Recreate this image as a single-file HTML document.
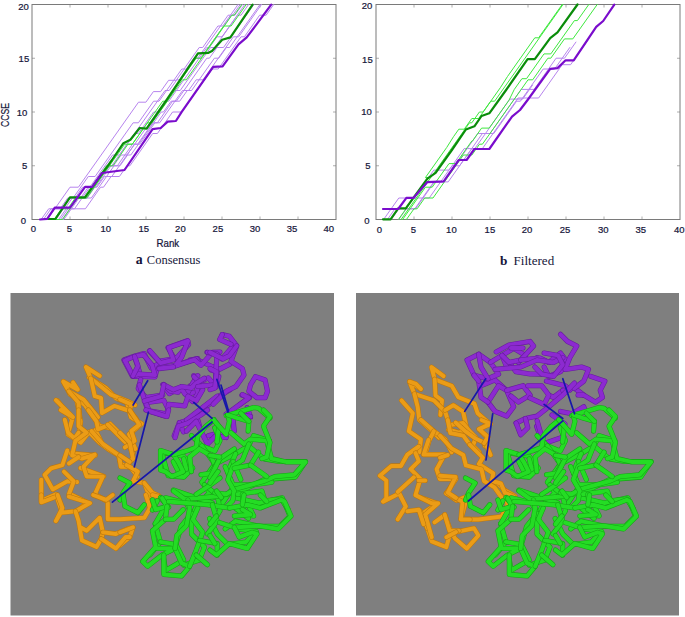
<!DOCTYPE html>
<html><head><meta charset="utf-8"><style>
html,body{margin:0;padding:0;background:#fff;width:685px;height:617px;overflow:hidden}
svg{position:absolute;left:0;top:0}
text{font-family:"Liberation Sans",sans-serif}
.tk text, .lab{stroke:#16163a;stroke-width:0.22px}
.cap{font-family:"Liberation Serif",serif}
</style></head><body>
<svg width="685" height="617" viewBox="0 0 685 617">

<g class="tk">
<line x1="70" y1="219.5" x2="70" y2="216.5" stroke="#999" stroke-width="0.8"/>
<line x1="70" y1="4.5" x2="70" y2="7.5" stroke="#999" stroke-width="0.8"/>
<line x1="108" y1="219.5" x2="108" y2="216.5" stroke="#999" stroke-width="0.8"/>
<line x1="108" y1="4.5" x2="108" y2="7.5" stroke="#999" stroke-width="0.8"/>
<line x1="146" y1="219.5" x2="146" y2="216.5" stroke="#999" stroke-width="0.8"/>
<line x1="146" y1="4.5" x2="146" y2="7.5" stroke="#999" stroke-width="0.8"/>
<line x1="184" y1="219.5" x2="184" y2="216.5" stroke="#999" stroke-width="0.8"/>
<line x1="184" y1="4.5" x2="184" y2="7.5" stroke="#999" stroke-width="0.8"/>
<line x1="222" y1="219.5" x2="222" y2="216.5" stroke="#999" stroke-width="0.8"/>
<line x1="222" y1="4.5" x2="222" y2="7.5" stroke="#999" stroke-width="0.8"/>
<line x1="260" y1="219.5" x2="260" y2="216.5" stroke="#999" stroke-width="0.8"/>
<line x1="260" y1="4.5" x2="260" y2="7.5" stroke="#999" stroke-width="0.8"/>
<line x1="298" y1="219.5" x2="298" y2="216.5" stroke="#999" stroke-width="0.8"/>
<line x1="298" y1="4.5" x2="298" y2="7.5" stroke="#999" stroke-width="0.8"/>
<line x1="32" y1="165.75" x2="35" y2="165.75" stroke="#999" stroke-width="0.8"/>
<line x1="336" y1="165.75" x2="333" y2="165.75" stroke="#999" stroke-width="0.8"/>
<line x1="32" y1="112.0" x2="35" y2="112.0" stroke="#999" stroke-width="0.8"/>
<line x1="336" y1="112.0" x2="333" y2="112.0" stroke="#999" stroke-width="0.8"/>
<line x1="32" y1="58.25" x2="35" y2="58.25" stroke="#999" stroke-width="0.8"/>
<line x1="336" y1="58.25" x2="333" y2="58.25" stroke="#999" stroke-width="0.8"/>
<rect x="32" y="4.5" width="304" height="215.0" fill="none" stroke="#7a7a7a" stroke-width="1"/>
<text x="23.5" y="223.9" font-size="9.5" fill="#16163a" text-anchor="middle">0</text>
<text x="24.6" y="169.0" font-size="9.5" fill="#16163a" text-anchor="middle">5</text>
<text x="22.1" y="116.1" font-size="9.5" fill="#16163a" text-anchor="middle">10</text>
<text x="23.9" y="61.9" font-size="9.5" fill="#16163a" text-anchor="middle">15</text>
<text x="23.5" y="9.8" font-size="9.5" fill="#16163a" text-anchor="middle">20</text>
<text x="33.5" y="231.8" font-size="9.5" fill="#16163a" text-anchor="middle">0</text>
<text x="69.5" y="231.8" font-size="9.5" fill="#16163a" text-anchor="middle">5</text>
<text x="105.7" y="231.8" font-size="9.5" fill="#16163a" text-anchor="middle">10</text>
<text x="143.8" y="231.8" font-size="9.5" fill="#16163a" text-anchor="middle">15</text>
<text x="180.4" y="231.8" font-size="9.5" fill="#16163a" text-anchor="middle">20</text>
<text x="217.9" y="231.8" font-size="9.5" fill="#16163a" text-anchor="middle">25</text>
<text x="255.1" y="231.8" font-size="9.5" fill="#16163a" text-anchor="middle">30</text>
<text x="292.1" y="231.8" font-size="9.5" fill="#16163a" text-anchor="middle">35</text>
<text x="328.8" y="231.8" font-size="9.5" fill="#16163a" text-anchor="middle">40</text>
<line x1="414" y1="219.5" x2="414" y2="216.5" stroke="#999" stroke-width="0.8"/>
<line x1="414" y1="4.5" x2="414" y2="7.5" stroke="#999" stroke-width="0.8"/>
<line x1="452" y1="219.5" x2="452" y2="216.5" stroke="#999" stroke-width="0.8"/>
<line x1="452" y1="4.5" x2="452" y2="7.5" stroke="#999" stroke-width="0.8"/>
<line x1="490" y1="219.5" x2="490" y2="216.5" stroke="#999" stroke-width="0.8"/>
<line x1="490" y1="4.5" x2="490" y2="7.5" stroke="#999" stroke-width="0.8"/>
<line x1="528" y1="219.5" x2="528" y2="216.5" stroke="#999" stroke-width="0.8"/>
<line x1="528" y1="4.5" x2="528" y2="7.5" stroke="#999" stroke-width="0.8"/>
<line x1="566" y1="219.5" x2="566" y2="216.5" stroke="#999" stroke-width="0.8"/>
<line x1="566" y1="4.5" x2="566" y2="7.5" stroke="#999" stroke-width="0.8"/>
<line x1="604" y1="219.5" x2="604" y2="216.5" stroke="#999" stroke-width="0.8"/>
<line x1="604" y1="4.5" x2="604" y2="7.5" stroke="#999" stroke-width="0.8"/>
<line x1="642" y1="219.5" x2="642" y2="216.5" stroke="#999" stroke-width="0.8"/>
<line x1="642" y1="4.5" x2="642" y2="7.5" stroke="#999" stroke-width="0.8"/>
<line x1="376" y1="165.75" x2="379" y2="165.75" stroke="#999" stroke-width="0.8"/>
<line x1="680" y1="165.75" x2="677" y2="165.75" stroke="#999" stroke-width="0.8"/>
<line x1="376" y1="112.0" x2="379" y2="112.0" stroke="#999" stroke-width="0.8"/>
<line x1="680" y1="112.0" x2="677" y2="112.0" stroke="#999" stroke-width="0.8"/>
<line x1="376" y1="58.25" x2="379" y2="58.25" stroke="#999" stroke-width="0.8"/>
<line x1="680" y1="58.25" x2="677" y2="58.25" stroke="#999" stroke-width="0.8"/>
<rect x="376" y="4.5" width="304" height="215.0" fill="none" stroke="#7a7a7a" stroke-width="1"/>
<text x="367" y="223.8" font-size="9.5" fill="#16163a" text-anchor="middle">0</text>
<text x="368" y="169.4" font-size="9.5" fill="#16163a" text-anchor="middle">5</text>
<text x="366.5" y="114.9" font-size="9.5" fill="#16163a" text-anchor="middle">10</text>
<text x="367.4" y="62.6" font-size="9.5" fill="#16163a" text-anchor="middle">15</text>
<text x="367" y="9.0" font-size="9.5" fill="#16163a" text-anchor="middle">20</text>
<text x="379.4" y="233.3" font-size="9.5" fill="#16163a" text-anchor="middle">0</text>
<text x="413.5" y="233.3" font-size="9.5" fill="#16163a" text-anchor="middle">5</text>
<text x="451.4" y="233.3" font-size="9.5" fill="#16163a" text-anchor="middle">10</text>
<text x="489.9" y="233.3" font-size="9.5" fill="#16163a" text-anchor="middle">15</text>
<text x="527.1" y="233.3" font-size="9.5" fill="#16163a" text-anchor="middle">20</text>
<text x="565" y="233.3" font-size="9.5" fill="#16163a" text-anchor="middle">25</text>
<text x="603.3" y="233.3" font-size="9.5" fill="#16163a" text-anchor="middle">30</text>
<text x="640.7" y="233.3" font-size="9.5" fill="#16163a" text-anchor="middle">35</text>
<text x="679.2" y="233.3" font-size="9.5" fill="#16163a" text-anchor="middle">40</text>
</g>
<text class="lab" x="156.6" y="246.6" font-size="10" fill="#16163a" textLength="22.6" lengthAdjust="spacingAndGlyphs">Rank</text>
<text class="lab" transform="translate(9.2,126.9) rotate(-90)" font-size="10" fill="#16163a" textLength="24" lengthAdjust="spacingAndGlyphs">CCSE</text>
<text class="cap" x="135.8" y="264.3" font-size="13.8" font-weight="bold" fill="#16163a">a</text>
<text class="cap" x="146.8" y="264.4" font-size="12.5" fill="#16163a" textLength="53.6" lengthAdjust="spacingAndGlyphs">Consensus</text>
<text class="cap" x="500.1" y="264.7" font-size="13.3" font-weight="bold" fill="#16163a">b</text>
<text class="cap" x="513.6" y="264.7" font-size="12.8" fill="#16163a" textLength="40.6" lengthAdjust="spacingAndGlyphs">Filtered</text>
<g fill="none" stroke-linejoin="round" stroke-linecap="round">
<polyline points="43.4,219.5 51.0,208.8 54.8,208.8 70.0,187.2 78.4,187.2 138.5,102.2 145.9,102.2 153.4,91.6 160.6,91.6 168.6,80.3 176.2,80.3 184.1,69.2 186.1,69.2 193.9,58.2 197.7,58.2 228.1,15.2 232.6,15.2 240.2,4.5" stroke="#b784ee" stroke-width="1"/>
<polyline points="41.1,219.5 48.7,208.8 60.1,208.8 67.7,198.0 73.1,198.0 88.3,176.5 95.1,176.5 133.1,122.8 138.4,122.8 153.6,101.2 159.0,101.2 181.8,69.0 184.0,69.0 199.2,47.5 202.7,47.5 217.9,26.0 222.8,26.0 238.0,4.5" stroke="#b784ee" stroke-width="1"/>
<polyline points="43.4,219.5 55.8,219.5 63.4,208.8 64.7,208.8 72.3,198.0 82.2,198.0 112.6,155.0 119.4,155.0 165.0,90.5 169.2,90.5 176.8,79.8 180.2,79.8 195.4,58.2 201.0,58.2 231.4,15.2 234.9,15.2 242.5,4.5" stroke="#b784ee" stroke-width="1"/>
<polyline points="47.2,219.5 54.8,208.8 61.4,208.8 69.0,198.0 75.0,198.0 82.6,187.2 92.8,187.2 108.0,165.8 111.7,165.8 134.5,133.5 138.4,133.5 153.6,112.0 159.2,112.0 174.4,90.5 180.2,90.5 210.6,47.5 214.7,47.5 237.5,15.2 241.0,15.2 248.6,4.5" stroke="#b784ee" stroke-width="1"/>
<polyline points="51.0,219.5 62.2,219.5 69.8,208.8 74.5,208.8 82.1,198.0 91.3,198.0 114.1,165.8 120.0,165.8 127.6,155.0 130.8,155.0 161.2,112.0 163.5,112.0 171.1,101.2 176.4,101.2 206.8,58.2 209.4,58.2 217.0,47.5 223.5,47.5 253.9,4.5" stroke="#b784ee" stroke-width="1"/>
<polyline points="54.8,219.5 70.0,198.0 87.2,198.0 94.8,187.2 96.9,187.2 104.5,176.5 111.8,176.5 134.6,144.2 137.6,144.2 152.8,122.8 157.4,122.8 172.6,101.2 179.7,101.2 187.3,90.5 191.6,90.5 214.4,58.2 218.8,58.2 226.4,47.5 229.6,47.5 260.0,4.5" stroke="#b784ee" stroke-width="1"/>
<polyline points="45.7,219.5 63.8,219.5 79.0,198.0 80.6,198.0 88.2,187.2 95.8,187.2 111.0,165.8 117.3,165.8 132.5,144.2 139.7,144.2 154.9,122.8 159.7,122.8 182.5,90.5 188.6,90.5 196.2,79.8 203.0,79.8 233.4,36.8 238.7,36.8 261.5,4.5" stroke="#b784ee" stroke-width="1"/>
<polyline points="58.6,219.5 66.2,208.8 85.4,208.8 100.6,187.2 103.5,187.2 111.1,176.5 119.4,176.5 127.0,165.8 129.9,165.8 152.7,133.5 157.4,133.5 172.6,112.0 181.8,112.0 212.2,69.0 218.2,69.0 241.0,36.8 244.4,36.8 259.6,15.2 266.1,15.2 273.7,4.5" stroke="#b784ee" stroke-width="1"/>
<polyline points="53.3,219.5 60.4,219.5 68.0,208.8 69.0,208.8 76.6,198.0 86.7,198.0 109.5,165.8 113.5,165.8 121.1,155.0 127.0,155.0 165.0,101.2 168.8,101.2 206.8,47.5 209.4,47.5 217.0,36.8 222.0,36.8 244.8,4.5" stroke="#b784ee" stroke-width="1"/>
<polyline points="47.2,219.5 54.0,219.5 61.6,208.8 67.7,208.8 75.3,198.0 83.7,198.0 106.5,165.8 112.8,165.8 128.0,144.2 132.3,144.2 162.7,101.2 165.8,101.2 196.2,58.2 200.9,58.2 223.7,26.0 231.1,26.0 246.3,4.5" stroke="#3ee83e" stroke-width="1"/>
<polyline points="54.8,219.5 62.5,219.5 77.7,198.0 86.7,198.0 124.7,144.2 132.3,144.2 147.5,122.8 152.1,122.8 182.5,79.8 186.3,79.8 231.9,15.2 234.2,15.2 241.8,4.5" stroke="#3ee83e" stroke-width="1"/>
<polyline points="383.6,219.5 398.8,198.0 414.0,198.0 433.8,170.1 449.0,170.1 464.2,148.6 474.8,148.6 509.8,99.1 522.7,99.1 532.6,85.1" stroke="#b784ee" stroke-width="1"/>
<polyline points="387.4,219.5 395.0,208.8 414.8,208.8 433.8,181.9 448.2,181.9 471.8,148.6 482.4,148.6 518.1,98.0 538.6,98.0 562.2,64.7 570.6,64.7 588.0,40.0" stroke="#b784ee" stroke-width="1"/>
<polyline points="391.2,219.5 406.4,198.0 429.2,198.0 452.0,165.8 459.6,165.8 482.4,133.5 490.0,133.5 521.2,89.4 534.1,89.4 556.1,58.2 564.5,58.2 575.9,42.1" stroke="#b784ee" stroke-width="1"/>
<polyline points="398.8,219.5 406.4,208.8 415.5,208.8 434.5,181.9 443.6,181.9 477.8,133.5 493.8,133.5 516.6,101.2 520.4,101.2 543.2,69.0 554.6,69.0 569.8,47.5" stroke="#b784ee" stroke-width="1"/>
<polyline points="398.4,219.5 428.1,177.6 425.4,177.6 446.7,147.5 453.5,136.7 458.8,129.2 464.2,129.2 471.8,118.5 478.6,118.5 500.6,87.3 507.5,76.5 534.8,37.8 538.6,37.8 562.2,4.5" stroke="#3ee83e" stroke-width="1"/>
<polyline points="401.1,219.5 469.5,122.8 471.8,122.8 479.4,112.0 483.1,112.0 490.7,101.2 494.6,101.2 563.0,4.5" stroke="#3ee83e" stroke-width="1"/>
<polyline points="402.6,219.5 425.4,187.2 432.2,187.2 449.0,163.6 455.8,163.6 471.8,141.0 472.5,141.0 481.6,128.1 489.2,128.1 509.0,100.2 514.3,89.4 521.9,78.7 526.5,78.7 544.0,53.9 550.8,53.9 574.4,20.6 577.4,20.6 588.8,4.5" stroke="#3ee83e" stroke-width="1"/>
<polyline points="406.4,219.5 414.0,208.8 417.1,208.8 424.7,198.0 433.0,198.0 463.4,155.0 471.9,155.0 479.5,144.2 482.4,144.2 528.0,79.8 532.7,79.8 547.9,58.2 550.8,58.2 564.5,38.9 572.8,38.9 597.2,4.5" stroke="#3ee83e" stroke-width="1"/>
<polyline points="48.4,219.0 55.4,219.0 70.0,197.3 85.1,197.3 112.0,160.0 123.4,143.2 130.4,139.7 139.7,128.0 146.7,128.6 166.6,100.0 198.0,53.4 208.5,52.8 212.0,51.0 222.2,39.7 230.4,37.4 252.6,4.7" stroke="#0a8c0a" stroke-width="2.2"/>
<polyline points="40.0,219.5 47.2,218.8 54.8,207.6 70.0,207.6 85.1,186.8 92.1,186.8 102.0,173.0 124.5,170.0 152.6,129.2 160.7,128.0 167.7,121.6 175.9,121.0 181.7,111.9 213.2,66.9 222.6,66.3 238.5,44.4 246.7,37.4 256.0,25.1 271.2,4.7" stroke="#7a0ccc" stroke-width="2.2"/>
<polyline points="383.0,219.3 390.6,219.3 398.2,208.4 405.8,208.4 427.4,178.6 435.6,172.8 451.9,150.0 465.9,129.5 474.4,126.3 481.5,116.0 489.3,113.3 506.1,90.0 527.6,59.2 534.8,59.2 550.2,38.1 557.5,32.4 577.5,4.5" stroke="#0a8c0a" stroke-width="2.2"/>
<polyline points="383.0,209.0 398.2,209.0 406.4,197.9 413.4,197.9 427.4,182.1 443.7,181.3 458.8,160.0 466.6,160.0 474.4,149.0 489.3,149.0 512.0,116.6 520.0,110.0 527.6,100.0 550.2,68.9 557.5,68.1 565.6,60.3 573.7,60.3 596.2,26.9 603.2,21.0 614.3,4.7" stroke="#7a0ccc" stroke-width="2.2"/>
</g>
<rect x="10.5" y="293" width="323.5" height="322.5" fill="#7f7f7f"/>
<rect x="356" y="293" width="323" height="322.5" fill="#7f7f7f"/>
<g fill="none" stroke-linejoin="round" stroke-linecap="round">
<polyline points="77.4,402.7 80.6,421.6 78.5,438.5" stroke="#bd780e" stroke-width="5.1"/>
<polyline points="77.4,402.7 80.6,421.6 78.5,438.5" stroke="#eb9c16" stroke-width="4.0"/>
<polyline points="57.4,400.6 72.1,419.5 67.9,434.3 80.6,442.7 89.0,432.2 99.5,442.7 108.0,449.0 118.5,455.4 120.6,463.8 131.1,468.0 137.5,476.4" stroke="#bd780e" stroke-width="5.1"/>
<polyline points="57.4,400.6 72.1,419.5 67.9,434.3 80.6,442.7 89.0,432.2 99.5,442.7 108.0,449.0 118.5,455.4 120.6,463.8 131.1,468.0 137.5,476.4" stroke="#eb9c16" stroke-width="4.0"/>
<polyline points="110.0,423.7 124.8,438.5 133.0,453.0" stroke="#bd780e" stroke-width="5.1"/>
<polyline points="110.0,423.7 124.8,438.5 133.0,453.0" stroke="#eb9c16" stroke-width="4.0"/>
<polyline points="95.3,430.0 101.6,442.7" stroke="#bd780e" stroke-width="5.1"/>
<polyline points="95.3,430.0 101.6,442.7" stroke="#eb9c16" stroke-width="4.0"/>
<polyline points="63.7,381.6 70.0,394.2 84.8,404.8 99.5,425.9 110.0,428.0" stroke="#bd780e" stroke-width="5.1"/>
<polyline points="63.7,381.6 70.0,394.2 84.8,404.8 99.5,425.9 110.0,428.0" stroke="#eb9c16" stroke-width="4.0"/>
<polyline points="89.0,377.4 105.9,387.9 116.4,398.5 126.9,402.7 131.1,417.4 141.7,423.7 129.0,434.3 135.4,449.0" stroke="#bd780e" stroke-width="5.1"/>
<polyline points="89.0,377.4 105.9,387.9 116.4,398.5 126.9,402.7 131.1,417.4 141.7,423.7 129.0,434.3 135.4,449.0" stroke="#eb9c16" stroke-width="4.0"/>
<polyline points="70.0,453.2 95.3,455.4" stroke="#bd780e" stroke-width="5.1"/>
<polyline points="70.0,453.2 95.3,455.4" stroke="#eb9c16" stroke-width="4.0"/>
<polyline points="80.6,468.0 103.7,476.4" stroke="#bd780e" stroke-width="5.1"/>
<polyline points="80.6,468.0 103.7,476.4" stroke="#eb9c16" stroke-width="4.0"/>
<polyline points="99.7,375.9 85.9,367.0 90.8,378.3 111.0,394.6 127.2,401.0 135.0,405.0" stroke="#bd780e" stroke-width="5.1"/>
<polyline points="99.7,375.9 85.9,367.0 90.8,378.3 111.0,394.6 127.2,401.0 135.0,405.0" stroke="#eb9c16" stroke-width="4.0"/>
<polyline points="90.8,378.3 94.8,396.2 101.0,398.0 102.0,413.0 114.3,405.9 127.0,410.0" stroke="#bd780e" stroke-width="5.1"/>
<polyline points="90.8,378.3 94.8,396.2 101.0,398.0 102.0,413.0 114.3,405.9 127.0,410.0" stroke="#eb9c16" stroke-width="4.0"/>
<polyline points="73.0,382.4 77.8,389.7 63.2,381.6 68.9,391.3 83.5,399.4 98.0,417.2" stroke="#bd780e" stroke-width="5.1"/>
<polyline points="73.0,382.4 77.8,389.7 63.2,381.6 68.9,391.3 83.5,399.4 98.0,417.2" stroke="#eb9c16" stroke-width="4.0"/>
<polyline points="68.9,391.3 78.6,402.7 79.4,417.2" stroke="#bd780e" stroke-width="5.1"/>
<polyline points="68.9,391.3 78.6,402.7 79.4,417.2" stroke="#eb9c16" stroke-width="4.0"/>
<polyline points="55.9,400.2 73.0,417.2 60.8,410.0" stroke="#bd780e" stroke-width="5.1"/>
<polyline points="55.9,400.2 73.0,417.2 60.8,410.0" stroke="#eb9c16" stroke-width="4.0"/>
<polyline points="120.0,399.4 131.3,404.3 129.7,410.8 136.2,418.9" stroke="#bd780e" stroke-width="5.1"/>
<polyline points="120.0,399.4 131.3,404.3 129.7,410.8 136.2,418.9" stroke="#eb9c16" stroke-width="4.0"/>
<polyline points="64.8,419.7 68.1,432.7 74.6,438.4 78.6,432.7" stroke="#bd780e" stroke-width="5.1"/>
<polyline points="64.8,419.7 68.1,432.7 74.6,438.4 78.6,432.7" stroke="#eb9c16" stroke-width="4.0"/>
<polyline points="78.6,410.0 78.6,426.2 86.7,432.7 75.4,440.8 72.1,455.4 81.9,458.6 94.8,454.6 83.5,466.7 86.7,476.5 102.9,476.5 94.8,494.3 106.2,500.8" stroke="#bd780e" stroke-width="5.1"/>
<polyline points="78.6,410.0 78.6,426.2 86.7,432.7 75.4,440.8 72.1,455.4 81.9,458.6 94.8,454.6 83.5,466.7 86.7,476.5 102.9,476.5 94.8,494.3 106.2,500.8" stroke="#eb9c16" stroke-width="4.0"/>
<polyline points="88.3,410.0 96.5,421.3 98.0,429.4 107.8,425.4" stroke="#bd780e" stroke-width="5.1"/>
<polyline points="88.3,410.0 96.5,421.3 98.0,429.4 107.8,425.4" stroke="#eb9c16" stroke-width="4.0"/>
<polyline points="91.6,431.1 102.9,444.0 119.1,455.4 120.8,466.7 130.0,466.7" stroke="#bd780e" stroke-width="5.1"/>
<polyline points="91.6,431.1 102.9,444.0 119.1,455.4 120.8,466.7 130.0,466.7" stroke="#eb9c16" stroke-width="4.0"/>
<polyline points="107.8,424.6 127.2,444.0" stroke="#bd780e" stroke-width="5.1"/>
<polyline points="107.8,424.6 127.2,444.0" stroke="#eb9c16" stroke-width="4.0"/>
<polyline points="67.3,450.5 62.4,465.1 51.1,468.3 44.6,474.8 52.7,489.4 67.3,481.3 77.0,482.0" stroke="#bd780e" stroke-width="5.1"/>
<polyline points="67.3,450.5 62.4,465.1 51.1,468.3 44.6,474.8 52.7,489.4 67.3,481.3 77.0,482.0" stroke="#eb9c16" stroke-width="4.0"/>
<polyline points="41.3,479.7 41.3,500.8 55.9,494.3 60.8,508.9" stroke="#bd780e" stroke-width="5.1"/>
<polyline points="41.3,479.7 41.3,500.8 55.9,494.3 60.8,508.9" stroke="#eb9c16" stroke-width="4.0"/>
<polyline points="70.5,494.3 86.7,502.4 79.0,510.0" stroke="#bd780e" stroke-width="5.1"/>
<polyline points="70.5,494.3 86.7,502.4 79.0,510.0" stroke="#eb9c16" stroke-width="4.0"/>
<polyline points="64.0,471.6 73.8,481.3 68.9,494.3" stroke="#bd780e" stroke-width="5.1"/>
<polyline points="64.0,471.6 73.8,481.3 68.9,494.3" stroke="#eb9c16" stroke-width="4.0"/>
<polyline points="68.9,463.5 78.6,457.0" stroke="#bd780e" stroke-width="5.1"/>
<polyline points="68.9,463.5 78.6,457.0" stroke="#eb9c16" stroke-width="4.0"/>
<polyline points="129.7,410.0 139.4,424.6 131.3,431.1 134.6,440.8 124.9,447.3" stroke="#bd780e" stroke-width="5.1"/>
<polyline points="129.7,410.0 139.4,424.6 131.3,431.1 134.6,440.8 124.9,447.3" stroke="#eb9c16" stroke-width="4.0"/>
<polyline points="120.0,432.7 129.7,442.4 133.0,458.6 126.5,465.1 137.8,471.6 133.0,481.3 144.3,482.9 149.2,495.9 149.2,508.9" stroke="#bd780e" stroke-width="5.1"/>
<polyline points="120.0,432.7 129.7,442.4 133.0,458.6 126.5,465.1 137.8,471.6 133.0,481.3 144.3,482.9 149.2,495.9 149.2,508.9" stroke="#eb9c16" stroke-width="4.0"/>
<polyline points="144.3,482.9 152.4,492.7 158.9,495.9" stroke="#bd780e" stroke-width="5.1"/>
<polyline points="144.3,482.9 152.4,492.7 158.9,495.9" stroke="#eb9c16" stroke-width="4.0"/>
<polyline points="120.0,455.4 129.7,461.9" stroke="#bd780e" stroke-width="5.1"/>
<polyline points="120.0,455.4 129.7,461.9" stroke="#eb9c16" stroke-width="4.0"/>
<polyline points="41.3,495.0 41.3,502.3 54.3,497.4" stroke="#bd780e" stroke-width="5.1"/>
<polyline points="41.3,495.0 41.3,502.3 54.3,497.4" stroke="#eb9c16" stroke-width="4.0"/>
<polyline points="57.6,495.0 62.4,508.0 55.9,521.0 60.8,512.8 75.4,511.2 90.0,503.1 68.9,496.6" stroke="#bd780e" stroke-width="5.1"/>
<polyline points="57.6,495.0 62.4,508.0 55.9,521.0 60.8,512.8 75.4,511.2 90.0,503.1 68.9,496.6" stroke="#eb9c16" stroke-width="4.0"/>
<polyline points="75.4,511.2 78.6,520.9 81.9,540.4 96.5,546.9 101.3,538.8 102.9,532.3 99.7,517.7 86.7,530.7 80.0,527.0" stroke="#bd780e" stroke-width="5.1"/>
<polyline points="75.4,511.2 78.6,520.9 81.9,540.4 96.5,546.9 101.3,538.8 102.9,532.3 99.7,517.7 86.7,530.7 80.0,527.0" stroke="#eb9c16" stroke-width="4.0"/>
<polyline points="102.9,532.3 115.9,533.9 127.2,529.0 133.0,527.4 129.7,537.1 120.0,545.2" stroke="#bd780e" stroke-width="5.1"/>
<polyline points="102.9,532.3 115.9,533.9 127.2,529.0 133.0,527.4 129.7,537.1 120.0,545.2" stroke="#eb9c16" stroke-width="4.0"/>
<polyline points="101.3,538.8 115.9,548.5 125.6,537.1 129.7,537.1" stroke="#bd780e" stroke-width="5.1"/>
<polyline points="101.3,538.8 115.9,548.5 125.6,537.1 129.7,537.1" stroke="#eb9c16" stroke-width="4.0"/>
<polyline points="107.8,503.1 107.8,519.3 120.0,519.3 144.3,517.7 150.0,508.0 145.9,495.0" stroke="#bd780e" stroke-width="5.1"/>
<polyline points="107.8,503.1 107.8,519.3 120.0,519.3 144.3,517.7 150.0,508.0 145.9,495.0" stroke="#eb9c16" stroke-width="4.0"/>
<polyline points="93.2,495.0 106.2,499.9 112.7,495.0" stroke="#bd780e" stroke-width="5.1"/>
<polyline points="93.2,495.0 106.2,499.9 112.7,495.0" stroke="#eb9c16" stroke-width="4.0"/>
<polyline points="120.0,532.3 133.0,527.4" stroke="#bd780e" stroke-width="5.1"/>
<polyline points="120.0,532.3 133.0,527.4" stroke="#eb9c16" stroke-width="4.0"/>
<polyline points="152.4,495.0 158.9,496.6" stroke="#bd780e" stroke-width="5.1"/>
<polyline points="152.4,495.0 158.9,496.6" stroke="#eb9c16" stroke-width="4.0"/>
<polyline points="206.9,352.2 215.9,353.5 222.0,359.0 228.9,350.9 233.0,346.0" stroke="#661c9e" stroke-width="5.1"/>
<polyline points="206.9,352.2 215.9,353.5 222.0,359.0 228.9,350.9 233.0,346.0" stroke="#8c2ad0" stroke-width="4.0"/>
<polyline points="197.8,360.0 212.0,366.5 219.8,369.1 230.2,363.9" stroke="#661c9e" stroke-width="5.1"/>
<polyline points="197.8,360.0 212.0,366.5 219.8,369.1 230.2,363.9" stroke="#8c2ad0" stroke-width="4.0"/>
<polyline points="190.0,360.0 197.8,358.7" stroke="#661c9e" stroke-width="5.1"/>
<polyline points="190.0,360.0 197.8,358.7" stroke="#8c2ad0" stroke-width="4.0"/>
<polyline points="193.9,375.6 197.8,384.6 215.9,386.0 217.2,371.7 211.0,370.0" stroke="#661c9e" stroke-width="5.1"/>
<polyline points="193.9,375.6 197.8,384.6 215.9,386.0 217.2,371.7 211.0,370.0" stroke="#8c2ad0" stroke-width="4.0"/>
<polyline points="190.0,386.0 197.8,384.6" stroke="#661c9e" stroke-width="5.1"/>
<polyline points="190.0,386.0 197.8,384.6" stroke="#8c2ad0" stroke-width="4.0"/>
<polyline points="190.0,393.7 201.7,389.8" stroke="#661c9e" stroke-width="5.1"/>
<polyline points="190.0,393.7 201.7,389.8" stroke="#8c2ad0" stroke-width="4.0"/>
<polyline points="241.9,395.0 249.6,397.6 239.3,405.0" stroke="#661c9e" stroke-width="5.1"/>
<polyline points="241.9,395.0 249.6,397.6 239.3,405.0" stroke="#8c2ad0" stroke-width="4.0"/>
<polyline points="134.3,356.1 139.5,371.7 132.3,376.2 123.9,360.0 134.3,356.1 144.0,353.5 151.1,367.8 158.2,363.9 155.0,376.9 132.3,376.2" stroke="#661c9e" stroke-width="5.1"/>
<polyline points="134.3,356.1 139.5,371.7 132.3,376.2 123.9,360.0 134.3,356.1 144.0,353.5 151.1,367.8 158.2,363.9 155.0,376.9 132.3,376.2" stroke="#8c2ad0" stroke-width="4.0"/>
<polyline points="149.2,351.0 158.9,361.3 174.5,358.7 168.0,347.7 187.4,340.6 188.7,344.5 177.1,357.4" stroke="#661c9e" stroke-width="5.1"/>
<polyline points="149.2,351.0 158.9,361.3 174.5,358.7 168.0,347.7 187.4,340.6 188.7,344.5 177.1,357.4" stroke="#8c2ad0" stroke-width="4.0"/>
<polyline points="158.9,367.8 175.8,365.2 196.5,358.7 200.0,364.0" stroke="#661c9e" stroke-width="5.1"/>
<polyline points="158.9,367.8 175.8,365.2 196.5,358.7 200.0,364.0" stroke="#8c2ad0" stroke-width="4.0"/>
<polyline points="140.7,379.5 138.2,388.5 145.9,397.6 162.8,395.0" stroke="#661c9e" stroke-width="5.1"/>
<polyline points="140.7,379.5 138.2,388.5 145.9,397.6 162.8,395.0" stroke="#8c2ad0" stroke-width="4.0"/>
<polyline points="162.8,384.6 169.3,393.7 180.9,387.2 187.4,393.7 192.6,383.3 197.8,375.6" stroke="#661c9e" stroke-width="5.1"/>
<polyline points="162.8,384.6 169.3,393.7 180.9,387.2 187.4,393.7 192.6,383.3 197.8,375.6" stroke="#8c2ad0" stroke-width="4.0"/>
<polyline points="145.3,402.8 147.9,410.7 165.0,416.0 168.3,409.4 163.7,400.2 145.3,402.8" stroke="#661c9e" stroke-width="5.1"/>
<polyline points="145.3,402.8 147.9,410.7 165.0,416.0 168.3,409.4 163.7,400.2 145.3,402.8" stroke="#8c2ad0" stroke-width="4.0"/>
<polyline points="163.7,384.5 170.2,391.0 178.1,392.3 180.7,387.1 184.7,393.7 192.6,401.5 197.8,393.7 196.5,385.8" stroke="#661c9e" stroke-width="5.1"/>
<polyline points="163.7,384.5 170.2,391.0 178.1,392.3 180.7,387.1 184.7,393.7 192.6,401.5 197.8,393.7 196.5,385.8" stroke="#8c2ad0" stroke-width="4.0"/>
<polyline points="193.9,376.6 199.1,381.8 208.3,377.9 216.2,387.1 218.8,376.6" stroke="#661c9e" stroke-width="5.1"/>
<polyline points="193.9,376.6 199.1,381.8 208.3,377.9 216.2,387.1 218.8,376.6" stroke="#8c2ad0" stroke-width="4.0"/>
<polyline points="174.2,435.7 179.4,422.6 188.6,420.0 195.2,416.0 218.8,396.3 230.0,389.7" stroke="#661c9e" stroke-width="5.1"/>
<polyline points="174.2,435.7 179.4,422.6 188.6,420.0 195.2,416.0 218.8,396.3 230.0,389.7" stroke="#8c2ad0" stroke-width="4.0"/>
<polyline points="179.4,422.6 183.4,431.8" stroke="#661c9e" stroke-width="5.1"/>
<polyline points="179.4,422.6 183.4,431.8" stroke="#8c2ad0" stroke-width="4.0"/>
<polyline points="197.8,420.0 200.4,429.1" stroke="#661c9e" stroke-width="5.1"/>
<polyline points="197.8,420.0 200.4,429.1" stroke="#8c2ad0" stroke-width="4.0"/>
<polyline points="208.3,435.7 218.8,433.1 226.0,436.0" stroke="#661c9e" stroke-width="5.1"/>
<polyline points="208.3,435.7 218.8,433.1 226.0,436.0" stroke="#8c2ad0" stroke-width="4.0"/>
<polyline points="124.9,360.5 134.6,356.5 143.5,354.8 152.0,365.0 155.0,375.0 139.0,374.0 133.0,375.9 124.9,360.5" stroke="#661c9e" stroke-width="5.1"/>
<polyline points="124.9,360.5 134.6,356.5 143.5,354.8 152.0,365.0 155.0,375.0 139.0,374.0 133.0,375.9 124.9,360.5" stroke="#8c2ad0" stroke-width="4.0"/>
<polyline points="134.6,356.5 138.0,366.0 133.0,375.9" stroke="#661c9e" stroke-width="5.1"/>
<polyline points="134.6,356.5 138.0,366.0 133.0,375.9" stroke="#8c2ad0" stroke-width="4.0"/>
<polyline points="150.0,350.8 160.5,363.0 173.5,359.7 168.6,347.6 188.0,341.0 181.6,357.3 175.0,366.0 194.6,359.7 201.0,365.4 212.4,352.4 220.0,352.0" stroke="#661c9e" stroke-width="5.1"/>
<polyline points="150.0,350.8 160.5,363.0 173.5,359.7 168.6,347.6 188.0,341.0 181.6,357.3 175.0,366.0 194.6,359.7 201.0,365.4 212.4,352.4 220.0,352.0" stroke="#8c2ad0" stroke-width="4.0"/>
<polyline points="159.0,368.6 173.5,367.0" stroke="#661c9e" stroke-width="5.1"/>
<polyline points="159.0,368.6 173.5,367.0" stroke="#8c2ad0" stroke-width="4.0"/>
<polyline points="139.4,384.8 144.3,399.4 149.2,410.8 167.0,414.0 168.6,404.3 184.8,405.9 188.0,396.2 196.2,401.0 202.7,389.7" stroke="#661c9e" stroke-width="5.1"/>
<polyline points="139.4,384.8 144.3,399.4 149.2,410.8 167.0,414.0 168.6,404.3 184.8,405.9 188.0,396.2 196.2,401.0 202.7,389.7" stroke="#8c2ad0" stroke-width="4.0"/>
<polyline points="163.8,384.8 173.5,389.7 181.6,386.5 191.3,388.0 196.2,383.2 204.3,378.3" stroke="#661c9e" stroke-width="5.1"/>
<polyline points="163.8,384.8 173.5,389.7 181.6,386.5 191.3,388.0 196.2,383.2 204.3,378.3" stroke="#8c2ad0" stroke-width="4.0"/>
<polyline points="163.8,384.8 161.3,396.2 144.3,401.0" stroke="#661c9e" stroke-width="5.1"/>
<polyline points="163.8,384.8 161.3,396.2 144.3,401.0" stroke="#8c2ad0" stroke-width="4.0"/>
<polyline points="207.5,352.4 217.2,354.0 215.6,373.5 215.6,384.8 197.8,386.5" stroke="#661c9e" stroke-width="5.1"/>
<polyline points="207.5,352.4 217.2,354.0 215.6,373.5 215.6,384.8 197.8,386.5" stroke="#8c2ad0" stroke-width="4.0"/>
<polyline points="186.4,420.0 217.2,396.2" stroke="#661c9e" stroke-width="5.1"/>
<polyline points="186.4,420.0 217.2,396.2" stroke="#8c2ad0" stroke-width="4.0"/>
<polyline points="222.2,334.6 229.4,336.2 236.7,345.9 231.0,361.3 242.4,368.6 244.0,375.1 235.9,386.5 226.2,391.3 213.2,404.3" stroke="#661c9e" stroke-width="5.1"/>
<polyline points="222.2,334.6 229.4,336.2 236.7,345.9 231.0,361.3 242.4,368.6 244.0,375.1 235.9,386.5 226.2,391.3 213.2,404.3" stroke="#8c2ad0" stroke-width="4.0"/>
<polyline points="222.2,334.6 219.7,339.4 231.0,344.3" stroke="#661c9e" stroke-width="5.1"/>
<polyline points="222.2,334.6 219.7,339.4 231.0,344.3" stroke="#8c2ad0" stroke-width="4.0"/>
<polyline points="210.0,352.4 223.0,358.9 229.4,355.7 236.7,345.9" stroke="#661c9e" stroke-width="5.1"/>
<polyline points="210.0,352.4 223.0,358.9 229.4,355.7 236.7,345.9" stroke="#8c2ad0" stroke-width="4.0"/>
<polyline points="210.0,368.6 216.5,371.9 214.9,388.0 210.0,389.7" stroke="#661c9e" stroke-width="5.1"/>
<polyline points="210.0,368.6 216.5,371.9 214.9,388.0 210.0,389.7" stroke="#8c2ad0" stroke-width="4.0"/>
<polyline points="255.4,376.7 265.1,380.0 267.5,391.3 265.1,397.8 257.0,397.8 248.9,391.3 250.5,384.8 255.4,376.7" stroke="#661c9e" stroke-width="5.1"/>
<polyline points="255.4,376.7 265.1,380.0 267.5,391.3 265.1,397.8 257.0,397.8 248.9,391.3 250.5,384.8 255.4,376.7" stroke="#8c2ad0" stroke-width="4.0"/>
<polyline points="242.4,394.6 248.9,397.8 231.0,410.8 226.2,414.0" stroke="#661c9e" stroke-width="5.1"/>
<polyline points="242.4,394.6 248.9,397.8 231.0,410.8 226.2,414.0" stroke="#8c2ad0" stroke-width="4.0"/>
<polyline points="247.3,407.5 250.5,417.2" stroke="#661c9e" stroke-width="5.1"/>
<polyline points="247.3,407.5 250.5,417.2" stroke="#8c2ad0" stroke-width="4.0"/>
<polyline points="145.9,410.0 167.0,416.5 168.6,410.0" stroke="#661c9e" stroke-width="5.1"/>
<polyline points="145.9,410.0 167.0,416.5 168.6,410.0" stroke="#8c2ad0" stroke-width="4.0"/>
<polyline points="175.1,437.6 178.3,426.2 188.0,423.0 201.0,414.9 207.5,410.0" stroke="#661c9e" stroke-width="5.1"/>
<polyline points="175.1,437.6 178.3,426.2 188.0,423.0 201.0,414.9 207.5,410.0" stroke="#8c2ad0" stroke-width="4.0"/>
<polyline points="186.4,431.1 196.2,421.3 199.4,427.8 207.5,444.0 215.6,435.9 226.2,437.6" stroke="#661c9e" stroke-width="5.1"/>
<polyline points="186.4,431.1 196.2,421.3 199.4,427.8 207.5,444.0 215.6,435.9 226.2,437.6" stroke="#8c2ad0" stroke-width="4.0"/>
<polyline points="232.7,416.5 234.3,431.1" stroke="#661c9e" stroke-width="5.1"/>
<polyline points="232.7,416.5 234.3,431.1" stroke="#8c2ad0" stroke-width="4.0"/>
<polyline points="242.4,414.9 250.5,416.5" stroke="#661c9e" stroke-width="5.1"/>
<polyline points="242.4,414.9 250.5,416.5" stroke="#8c2ad0" stroke-width="4.0"/>
<polyline points="161.7,452.4 168.2,475.8 183.7,477.1 192.8,468.0 183.7,456.3 161.7,452.4" stroke="#16a416" stroke-width="5.1"/>
<polyline points="161.7,452.4 168.2,475.8 183.7,477.1 192.8,468.0 183.7,456.3 161.7,452.4" stroke="#24dc24" stroke-width="4.0"/>
<polyline points="173.3,461.5 178.5,471.9 186.3,469.3 183.7,458.9" stroke="#16a416" stroke-width="5.1"/>
<polyline points="173.3,461.5 178.5,471.9 186.3,469.3 183.7,458.9" stroke="#24dc24" stroke-width="4.0"/>
<polyline points="191.5,435.6 201.9,445.9 214.8,451.1 220.0,440.7 214.8,427.8" stroke="#16a416" stroke-width="5.1"/>
<polyline points="191.5,435.6 201.9,445.9 214.8,451.1 220.0,440.7 214.8,427.8" stroke="#24dc24" stroke-width="4.0"/>
<polyline points="201.9,445.9 214.8,464.1 201.9,482.2 209.6,492.6 196.7,505.6 188.9,523.7" stroke="#16a416" stroke-width="5.1"/>
<polyline points="201.9,445.9 214.8,464.1 201.9,482.2 209.6,492.6 196.7,505.6 188.9,523.7" stroke="#24dc24" stroke-width="4.0"/>
<polyline points="214.8,464.1 235.6,453.7 248.5,445.9 253.7,435.6 269.3,440.7" stroke="#16a416" stroke-width="5.1"/>
<polyline points="214.8,464.1 235.6,453.7 248.5,445.9 253.7,435.6 269.3,440.7" stroke="#24dc24" stroke-width="4.0"/>
<polyline points="235.6,453.7 227.8,471.9 233.0,487.4 222.6,503.0" stroke="#16a416" stroke-width="5.1"/>
<polyline points="235.6,453.7 227.8,471.9 233.0,487.4 222.6,503.0" stroke="#24dc24" stroke-width="4.0"/>
<polyline points="248.5,445.9 264.1,458.9 279.7,461.5 305.6,461.5 295.2,477.1 264.1,479.6 243.4,490.0 212.2,497.8" stroke="#16a416" stroke-width="5.1"/>
<polyline points="248.5,445.9 264.1,458.9 279.7,461.5 305.6,461.5 295.2,477.1 264.1,479.6 243.4,490.0 212.2,497.8" stroke="#24dc24" stroke-width="4.0"/>
<polyline points="233.0,461.5 240.8,479.6" stroke="#16a416" stroke-width="5.1"/>
<polyline points="233.0,461.5 240.8,479.6" stroke="#24dc24" stroke-width="4.0"/>
<polyline points="235.6,497.8 258.9,503.0 282.3,497.8 290.0,516.0 279.7,526.3 258.9,526.3 235.6,521.1 225.2,528.9" stroke="#16a416" stroke-width="5.1"/>
<polyline points="235.6,497.8 258.9,503.0 282.3,497.8 290.0,516.0 279.7,526.3 258.9,526.3 235.6,521.1 225.2,528.9" stroke="#24dc24" stroke-width="4.0"/>
<polyline points="240.8,513.4 253.7,516.0 248.5,505.6" stroke="#16a416" stroke-width="5.1"/>
<polyline points="240.8,513.4 253.7,516.0 248.5,505.6" stroke="#24dc24" stroke-width="4.0"/>
<polyline points="173.3,490.0 196.7,497.8 212.2,503.0" stroke="#16a416" stroke-width="5.1"/>
<polyline points="173.3,490.0 196.7,497.8 212.2,503.0" stroke="#24dc24" stroke-width="4.0"/>
<polyline points="165.6,497.8 186.3,503.0 191.5,513.4 191.5,534.1 204.5,547.1 199.3,560.0 183.7,565.2" stroke="#16a416" stroke-width="5.1"/>
<polyline points="165.6,497.8 186.3,503.0 191.5,513.4 191.5,534.1 204.5,547.1 199.3,560.0 183.7,565.2" stroke="#24dc24" stroke-width="4.0"/>
<polyline points="155.2,523.7 160.4,541.9 150.0,554.9" stroke="#16a416" stroke-width="5.1"/>
<polyline points="155.2,523.7 160.4,541.9 150.0,554.9" stroke="#24dc24" stroke-width="4.0"/>
<polyline points="160.4,541.9 175.9,544.5 181.1,526.3 191.5,513.4" stroke="#16a416" stroke-width="5.1"/>
<polyline points="160.4,541.9 175.9,544.5 181.1,526.3 191.5,513.4" stroke="#24dc24" stroke-width="4.0"/>
<polyline points="165.6,505.6 155.2,523.7" stroke="#16a416" stroke-width="5.1"/>
<polyline points="165.6,505.6 155.2,523.7" stroke="#24dc24" stroke-width="4.0"/>
<polyline points="175.9,544.5 183.7,560.0 165.6,570.4 163.0,554.9" stroke="#16a416" stroke-width="5.1"/>
<polyline points="175.9,544.5 183.7,560.0 165.6,570.4 163.0,554.9" stroke="#24dc24" stroke-width="4.0"/>
<polyline points="209.6,518.5 217.4,534.1 227.8,544.5 246.0,541.9 256.3,531.5 238.2,529.0" stroke="#16a416" stroke-width="5.1"/>
<polyline points="209.6,518.5 217.4,534.1 227.8,544.5 246.0,541.9 256.3,531.5 238.2,529.0" stroke="#24dc24" stroke-width="4.0"/>
<polyline points="204.5,484.8 217.4,495.2 220.0,510.8 212.2,523.7" stroke="#16a416" stroke-width="5.1"/>
<polyline points="204.5,484.8 217.4,495.2 220.0,510.8 212.2,523.7" stroke="#24dc24" stroke-width="4.0"/>
<polyline points="225.2,466.7 233.0,484.8 253.7,484.8 271.9,482.2" stroke="#16a416" stroke-width="5.1"/>
<polyline points="225.2,466.7 233.0,484.8 253.7,484.8 271.9,482.2" stroke="#24dc24" stroke-width="4.0"/>
<polyline points="235.6,508.2 248.5,518.5" stroke="#16a416" stroke-width="5.1"/>
<polyline points="235.6,508.2 248.5,518.5" stroke="#24dc24" stroke-width="4.0"/>
<polyline points="226.2,415.6 253.8,407.5 258.6,408.3 270.0,418.0" stroke="#16a416" stroke-width="5.1"/>
<polyline points="226.2,415.6 253.8,407.5 258.6,408.3 270.0,418.0" stroke="#24dc24" stroke-width="4.0"/>
<polyline points="160.5,450.5 173.5,454.6 178.3,461.9 183.2,471.6 171.9,476.5 165.4,471.6 160.5,470.0 160.5,450.5" stroke="#16a416" stroke-width="5.1"/>
<polyline points="160.5,450.5 173.5,454.6 178.3,461.9 183.2,471.6 171.9,476.5 165.4,471.6 160.5,470.0 160.5,450.5" stroke="#24dc24" stroke-width="4.0"/>
<polyline points="173.5,454.6 188.0,450.5 196.2,447.3 197.8,435.9 205.9,426.2 214.0,419.7" stroke="#16a416" stroke-width="5.1"/>
<polyline points="173.5,454.6 188.0,450.5 196.2,447.3 197.8,435.9 205.9,426.2 214.0,419.7" stroke="#24dc24" stroke-width="4.0"/>
<polyline points="191.3,471.6 189.7,456.9 199.4,448.9 210.8,455.4 215.6,466.7" stroke="#16a416" stroke-width="5.1"/>
<polyline points="191.3,471.6 189.7,456.9 199.4,448.9 210.8,455.4 215.6,466.7" stroke="#24dc24" stroke-width="4.0"/>
<polyline points="214.0,419.7 218.9,426.2 217.0,442.0" stroke="#16a416" stroke-width="5.1"/>
<polyline points="214.0,419.7 218.9,426.2 217.0,442.0" stroke="#24dc24" stroke-width="4.0"/>
<polyline points="201.0,474.8 210.8,473.2 220.0,458.6" stroke="#16a416" stroke-width="5.1"/>
<polyline points="201.0,474.8 210.8,473.2 220.0,458.6" stroke="#24dc24" stroke-width="4.0"/>
<polyline points="173.5,491.0 184.8,499.1 204.3,497.5 220.0,496.0" stroke="#16a416" stroke-width="5.1"/>
<polyline points="173.5,491.0 184.8,499.1 204.3,497.5 220.0,496.0" stroke="#24dc24" stroke-width="4.0"/>
<polyline points="196.2,494.3 210.8,484.6 220.0,478.0" stroke="#16a416" stroke-width="5.1"/>
<polyline points="196.2,494.3 210.8,484.6 220.0,478.0" stroke="#24dc24" stroke-width="4.0"/>
<polyline points="120.0,478.0 129.7,483.0 123.2,492.7 120.0,500.0" stroke="#16a416" stroke-width="5.1"/>
<polyline points="120.0,478.0 129.7,483.0 123.2,492.7 120.0,500.0" stroke="#24dc24" stroke-width="4.0"/>
<polyline points="160.5,497.5 168.6,507.2" stroke="#16a416" stroke-width="5.1"/>
<polyline points="160.5,497.5 168.6,507.2" stroke="#24dc24" stroke-width="4.0"/>
<polyline points="157.3,500.8 152.4,510.0" stroke="#16a416" stroke-width="5.1"/>
<polyline points="157.3,500.8 152.4,510.0" stroke="#24dc24" stroke-width="4.0"/>
<polyline points="213.2,419.7 226.2,434.3 229.4,421.3 227.8,414.9" stroke="#16a416" stroke-width="5.1"/>
<polyline points="213.2,419.7 226.2,434.3 229.4,421.3 227.8,414.9" stroke="#24dc24" stroke-width="4.0"/>
<polyline points="231.0,432.7 244.0,444.0 250.5,439.2 266.7,440.8 271.6,458.6 286.2,461.9 305.6,461.9 294.3,474.8 274.8,476.5 263.5,481.3 234.3,489.4 226.2,494.3 214.9,492.7" stroke="#16a416" stroke-width="5.1"/>
<polyline points="231.0,432.7 244.0,444.0 250.5,439.2 266.7,440.8 271.6,458.6 286.2,461.9 305.6,461.9 294.3,474.8 274.8,476.5 263.5,481.3 234.3,489.4 226.2,494.3 214.9,492.7" stroke="#24dc24" stroke-width="4.0"/>
<polyline points="263.5,410.0 270.0,416.5 263.5,426.2 270.0,442.4 266.7,457.0 261.9,458.6" stroke="#16a416" stroke-width="5.1"/>
<polyline points="263.5,410.0 270.0,416.5 263.5,426.2 270.0,442.4 266.7,457.0 261.9,458.6" stroke="#24dc24" stroke-width="4.0"/>
<polyline points="227.8,414.9 237.6,418.1 248.9,421.3 248.1,431.1" stroke="#16a416" stroke-width="5.1"/>
<polyline points="227.8,414.9 237.6,418.1 248.9,421.3 248.1,431.1" stroke="#24dc24" stroke-width="4.0"/>
<polyline points="240.8,413.2 248.9,421.3" stroke="#16a416" stroke-width="5.1"/>
<polyline points="240.8,413.2 248.9,421.3" stroke="#24dc24" stroke-width="4.0"/>
<polyline points="234.3,448.9 219.7,458.6 214.9,468.3 210.0,478.0" stroke="#16a416" stroke-width="5.1"/>
<polyline points="234.3,448.9 219.7,458.6 214.9,468.3 210.0,478.0" stroke="#24dc24" stroke-width="4.0"/>
<polyline points="248.9,444.0 242.4,460.2 232.7,466.7 227.8,479.7 234.3,491.0 232.7,500.8 226.2,507.2" stroke="#16a416" stroke-width="5.1"/>
<polyline points="248.9,444.0 242.4,460.2 232.7,466.7 227.8,479.7 234.3,491.0 232.7,500.8 226.2,507.2" stroke="#24dc24" stroke-width="4.0"/>
<polyline points="234.3,468.3 250.5,465.1 258.6,452.1" stroke="#16a416" stroke-width="5.1"/>
<polyline points="234.3,468.3 250.5,465.1 258.6,452.1" stroke="#24dc24" stroke-width="4.0"/>
<polyline points="250.5,465.1 266.7,476.5" stroke="#16a416" stroke-width="5.1"/>
<polyline points="250.5,465.1 266.7,476.5" stroke="#24dc24" stroke-width="4.0"/>
<polyline points="237.6,494.3 261.9,491.0 265.1,500.8 281.3,499.1 287.8,508.9" stroke="#16a416" stroke-width="5.1"/>
<polyline points="237.6,494.3 261.9,491.0 265.1,500.8 281.3,499.1 287.8,508.9" stroke="#24dc24" stroke-width="4.0"/>
<polyline points="242.4,494.3 244.0,507.2" stroke="#16a416" stroke-width="5.1"/>
<polyline points="242.4,494.3 244.0,507.2" stroke="#24dc24" stroke-width="4.0"/>
<polyline points="210.0,455.4 219.7,457.0" stroke="#16a416" stroke-width="5.1"/>
<polyline points="210.0,455.4 219.7,457.0" stroke="#24dc24" stroke-width="4.0"/>
<polyline points="218.1,471.6 210.0,483.0" stroke="#16a416" stroke-width="5.1"/>
<polyline points="218.1,471.6 210.0,483.0" stroke="#24dc24" stroke-width="4.0"/>
<polyline points="216.5,491.0 221.3,497.5" stroke="#16a416" stroke-width="5.1"/>
<polyline points="216.5,491.0 221.3,497.5" stroke="#24dc24" stroke-width="4.0"/>
<polyline points="123.2,495.0 124.9,506.3 137.8,512.8 144.3,504.7" stroke="#16a416" stroke-width="5.1"/>
<polyline points="123.2,495.0 124.9,506.3 137.8,512.8 144.3,504.7" stroke="#24dc24" stroke-width="4.0"/>
<polyline points="152.4,499.9 155.7,509.6 167.0,506.3 162.1,498.2" stroke="#16a416" stroke-width="5.1"/>
<polyline points="152.4,499.9 155.7,509.6 167.0,506.3 162.1,498.2" stroke="#24dc24" stroke-width="4.0"/>
<polyline points="167.0,506.3 165.4,519.3 152.4,530.7 155.7,546.9 142.7,561.5 147.6,566.3 162.1,555.0 175.1,548.5 157.3,548.5" stroke="#16a416" stroke-width="5.1"/>
<polyline points="167.0,506.3 165.4,519.3 152.4,530.7 155.7,546.9 142.7,561.5 147.6,566.3 162.1,555.0 175.1,548.5 157.3,548.5" stroke="#24dc24" stroke-width="4.0"/>
<polyline points="165.4,519.3 173.5,519.3 183.2,509.6" stroke="#16a416" stroke-width="5.1"/>
<polyline points="165.4,519.3 173.5,519.3 183.2,509.6" stroke="#24dc24" stroke-width="4.0"/>
<polyline points="163.8,555.0 163.8,574.4 181.6,576.0 189.7,566.3 181.6,563.1 175.1,548.5" stroke="#16a416" stroke-width="5.1"/>
<polyline points="163.8,555.0 163.8,574.4 181.6,576.0 189.7,566.3 181.6,563.1 175.1,548.5" stroke="#24dc24" stroke-width="4.0"/>
<polyline points="175.1,548.5 176.7,535.5 186.4,525.8 189.7,508.0 188.0,500.0" stroke="#16a416" stroke-width="5.1"/>
<polyline points="175.1,548.5 176.7,535.5 186.4,525.8 189.7,508.0 188.0,500.0" stroke="#24dc24" stroke-width="4.0"/>
<polyline points="189.7,566.3 196.2,550.1 202.7,532.3 192.9,519.3 197.8,508.0" stroke="#16a416" stroke-width="5.1"/>
<polyline points="189.7,566.3 196.2,550.1 202.7,532.3 192.9,519.3 197.8,508.0" stroke="#24dc24" stroke-width="4.0"/>
<polyline points="196.2,555.0 207.5,564.7" stroke="#16a416" stroke-width="5.1"/>
<polyline points="196.2,555.0 207.5,564.7" stroke="#24dc24" stroke-width="4.0"/>
<polyline points="199.4,540.4 217.2,543.6 217.2,555.0" stroke="#16a416" stroke-width="5.1"/>
<polyline points="199.4,540.4 217.2,543.6 217.2,555.0" stroke="#24dc24" stroke-width="4.0"/>
<polyline points="168.6,501.5 207.5,504.7 229.4,508.0" stroke="#16a416" stroke-width="5.1"/>
<polyline points="168.6,501.5 207.5,504.7 229.4,508.0" stroke="#24dc24" stroke-width="4.0"/>
<polyline points="212.4,504.7 217.2,521.0 207.5,533.9" stroke="#16a416" stroke-width="5.1"/>
<polyline points="212.4,504.7 217.2,521.0 207.5,533.9" stroke="#24dc24" stroke-width="4.0"/>
<polyline points="229.4,508.0 247.3,504.7 260.2,508.0 281.3,499.9 284.6,501.5 291.0,516.1 278.1,529.0 258.6,525.8 234.3,527.4 219.7,522.6" stroke="#16a416" stroke-width="5.1"/>
<polyline points="229.4,508.0 247.3,504.7 260.2,508.0 281.3,499.9 284.6,501.5 291.0,516.1 278.1,529.0 258.6,525.8 234.3,527.4 219.7,522.6" stroke="#24dc24" stroke-width="4.0"/>
<polyline points="234.3,527.4 239.2,537.1 252.1,532.3 257.0,533.9 247.3,548.5 229.4,543.6 216.5,555.0 210.0,550.0" stroke="#16a416" stroke-width="5.1"/>
<polyline points="234.3,527.4 239.2,537.1 252.1,532.3 257.0,533.9 247.3,548.5 229.4,543.6 216.5,555.0 210.0,550.0" stroke="#24dc24" stroke-width="4.0"/>
<polyline points="210.0,524.2 216.5,516.0" stroke="#16a416" stroke-width="5.1"/>
<polyline points="210.0,524.2 216.5,516.0" stroke="#24dc24" stroke-width="4.0"/>
<polyline points="234.3,516.1 250.5,514.4 242.4,509.6" stroke="#16a416" stroke-width="5.1"/>
<polyline points="234.3,516.1 250.5,514.4 242.4,509.6" stroke="#24dc24" stroke-width="4.0"/>
<polyline points="244.0,495.0 242.4,504.7" stroke="#16a416" stroke-width="5.1"/>
<polyline points="244.0,495.0 242.4,504.7" stroke="#24dc24" stroke-width="4.0"/>
<polyline points="260.2,495.0 266.7,501.5" stroke="#16a416" stroke-width="5.1"/>
<polyline points="260.2,495.0 266.7,501.5" stroke="#24dc24" stroke-width="4.0"/>
<polyline points="210.0,535.5 214.9,543.6" stroke="#16a416" stroke-width="5.1"/>
<polyline points="210.0,535.5 214.9,543.6" stroke="#24dc24" stroke-width="4.0"/>
<polyline points="147.7,380.7 133.1,405.0" stroke="#1616aa" stroke-width="1.7"/>
<polyline points="148.4,412.2 134.3,466.9" stroke="#1616aa" stroke-width="1.7"/>
<polyline points="112.4,502.2 212.1,422.0" stroke="#1616aa" stroke-width="1.7"/>
<polyline points="193.8,402.5 212.1,418.3" stroke="#1616aa" stroke-width="1.7"/>
<polyline points="216.9,379.4 227.9,412.2" stroke="#1616aa" stroke-width="1.7"/>
<polyline points="221.0,385.0 228.5,411.0" stroke="#1616aa" stroke-width="1.7"/>
<polyline points="446.3,493.1 456.5,500.4 468.2,496.1" stroke="#bd780e" stroke-width="5.1"/>
<polyline points="446.3,493.1 456.5,500.4 468.2,496.1" stroke="#eb9c16" stroke-width="4.0"/>
<polyline points="465.3,503.4 460.9,519.4 478.4,519.4 501.8,516.5 507.6,504.8 504.7,490.2 498.8,484.4 491.5,480.0" stroke="#bd780e" stroke-width="5.1"/>
<polyline points="465.3,503.4 460.9,519.4 478.4,519.4 501.8,516.5 507.6,504.8 504.7,490.2 498.8,484.4 491.5,480.0" stroke="#eb9c16" stroke-width="4.0"/>
<polyline points="504.7,490.2 514.9,496.1" stroke="#bd780e" stroke-width="5.1"/>
<polyline points="504.7,490.2 514.9,496.1" stroke="#eb9c16" stroke-width="4.0"/>
<polyline points="420.0,497.5 437.5,503.4 424.4,512.1 425.8,523.8 431.7,541.3 446.3,547.2 450.7,531.1 444.8,515.0 434.6,522.3" stroke="#bd780e" stroke-width="5.1"/>
<polyline points="420.0,497.5 437.5,503.4 424.4,512.1 425.8,523.8 431.7,541.3 446.3,547.2 450.7,531.1 444.8,515.0 434.6,522.3" stroke="#eb9c16" stroke-width="4.0"/>
<polyline points="450.7,531.1 455.0,538.4 466.7,548.6 478.4,535.5 474.0,528.2 453.6,532.6" stroke="#bd780e" stroke-width="5.1"/>
<polyline points="450.7,531.1 455.0,538.4 466.7,548.6 478.4,535.5 474.0,528.2 453.6,532.6" stroke="#eb9c16" stroke-width="4.0"/>
<polyline points="420.0,510.7 427.3,528.2" stroke="#bd780e" stroke-width="5.1"/>
<polyline points="420.0,510.7 427.3,528.2" stroke="#eb9c16" stroke-width="4.0"/>
<polyline points="443.6,376.1 431.5,367.2 434.7,379.3" stroke="#bd780e" stroke-width="5.1"/>
<polyline points="443.6,376.1 431.5,367.2 434.7,379.3" stroke="#eb9c16" stroke-width="4.0"/>
<polyline points="434.7,379.3 451.7,385.8 458.2,397.1 474.4,403.6 477.7,413.3 489.0,423.1 479.3,429.6 487.4,437.7 485.0,446.0" stroke="#bd780e" stroke-width="5.1"/>
<polyline points="434.7,379.3 451.7,385.8 458.2,397.1 474.4,403.6 477.7,413.3 489.0,423.1 479.3,429.6 487.4,437.7 485.0,446.0" stroke="#eb9c16" stroke-width="4.0"/>
<polyline points="434.7,379.3 435.5,395.5 442.0,400.4 440.4,415.0" stroke="#bd780e" stroke-width="5.1"/>
<polyline points="434.7,379.3 435.5,395.5 442.0,400.4 440.4,415.0" stroke="#eb9c16" stroke-width="4.0"/>
<polyline points="420.9,389.0 409.6,381.7 414.4,393.9 433.9,400.4 445.2,411.7 450.1,427.9 451.7,431.0" stroke="#bd780e" stroke-width="5.1"/>
<polyline points="420.9,389.0 409.6,381.7 414.4,393.9 433.9,400.4 445.2,411.7 450.1,427.9 451.7,431.0" stroke="#eb9c16" stroke-width="4.0"/>
<polyline points="409.6,381.7 416.0,384.0 420.9,389.0" stroke="#bd780e" stroke-width="5.1"/>
<polyline points="409.6,381.7 416.0,384.0 420.9,389.0" stroke="#eb9c16" stroke-width="4.0"/>
<polyline points="414.4,393.9 417.7,406.9 419.3,419.8 432.3,431.2 438.8,437.7" stroke="#bd780e" stroke-width="5.1"/>
<polyline points="414.4,393.9 417.7,406.9 419.3,419.8 432.3,431.2 438.8,437.7" stroke="#eb9c16" stroke-width="4.0"/>
<polyline points="401.5,400.4 412.8,413.3 408.8,431.2 420.9,439.3 419.3,452.2" stroke="#bd780e" stroke-width="5.1"/>
<polyline points="401.5,400.4 412.8,413.3 408.8,431.2 420.9,439.3 419.3,452.2" stroke="#eb9c16" stroke-width="4.0"/>
<polyline points="445.2,410.1 453.3,405.2 463.1,411.7 466.3,426.3 459.8,432.8 448.5,429.6" stroke="#bd780e" stroke-width="5.1"/>
<polyline points="445.2,410.1 453.3,405.2 463.1,411.7 466.3,426.3 459.8,432.8 448.5,429.6" stroke="#eb9c16" stroke-width="4.0"/>
<polyline points="420.9,419.8 433.9,431.2 445.2,439.3 451.7,452.2" stroke="#bd780e" stroke-width="5.1"/>
<polyline points="420.9,419.8 433.9,431.2 445.2,439.3 451.7,452.2" stroke="#eb9c16" stroke-width="4.0"/>
<polyline points="433.9,431.2 429.0,440.9 425.8,452.2" stroke="#bd780e" stroke-width="5.1"/>
<polyline points="433.9,431.2 429.0,440.9 425.8,452.2" stroke="#eb9c16" stroke-width="4.0"/>
<polyline points="451.7,424.7 463.1,423.1 469.6,431.2 476.0,437.7 472.8,445.8 479.3,452.2" stroke="#bd780e" stroke-width="5.1"/>
<polyline points="451.7,424.7 463.1,423.1 469.6,431.2 476.0,437.7 472.8,445.8 479.3,452.2" stroke="#eb9c16" stroke-width="4.0"/>
<polyline points="418.8,446.5 407.4,454.6 400.9,465.9 391.2,465.9 379.9,475.7 386.3,480.5 386.3,498.3 383.1,501.6 399.3,493.5 405.8,506.5 397.7,519.4" stroke="#bd780e" stroke-width="5.1"/>
<polyline points="418.8,446.5 407.4,454.6 400.9,465.9 391.2,465.9 379.9,475.7 386.3,480.5 386.3,498.3 383.1,501.6 399.3,493.5 405.8,506.5 397.7,519.4" stroke="#eb9c16" stroke-width="4.0"/>
<polyline points="415.5,453.0 418.8,461.1 410.7,469.2 420.4,478.9 415.5,495.1 431.7,503.2 438.2,503.2 425.2,514.6 428.5,525.9 431.7,537.2" stroke="#bd780e" stroke-width="5.1"/>
<polyline points="415.5,453.0 418.8,461.1 410.7,469.2 420.4,478.9 415.5,495.1 431.7,503.2 438.2,503.2 425.2,514.6 428.5,525.9 431.7,537.2" stroke="#eb9c16" stroke-width="4.0"/>
<polyline points="428.5,440.0 423.6,454.6 444.7,454.6 436.6,469.2 439.8,478.9 456.0,478.9 446.3,493.5 462.5,501.6 460.9,519.4 470.0,519.4" stroke="#bd780e" stroke-width="5.1"/>
<polyline points="428.5,440.0 423.6,454.6 444.7,454.6 436.6,469.2 439.8,478.9 456.0,478.9 446.3,493.5 462.5,501.6 460.9,519.4 470.0,519.4" stroke="#eb9c16" stroke-width="4.0"/>
<polyline points="413.9,477.3 397.7,491.9" stroke="#bd780e" stroke-width="5.1"/>
<polyline points="413.9,477.3 397.7,491.9" stroke="#eb9c16" stroke-width="4.0"/>
<polyline points="425.2,480.5 418.8,480.5" stroke="#bd780e" stroke-width="5.1"/>
<polyline points="425.2,480.5 418.8,480.5" stroke="#eb9c16" stroke-width="4.0"/>
<polyline points="407.4,511.3 418.8,509.7 423.6,524.3" stroke="#bd780e" stroke-width="5.1"/>
<polyline points="407.4,511.3 418.8,509.7 423.6,524.3" stroke="#eb9c16" stroke-width="4.0"/>
<polyline points="444.7,514.6 449.6,530.8 459.0,530.8" stroke="#bd780e" stroke-width="5.1"/>
<polyline points="444.7,514.6 449.6,530.8 459.0,530.8" stroke="#eb9c16" stroke-width="4.0"/>
<polyline points="446.3,537.2 456.0,532.0" stroke="#bd780e" stroke-width="5.1"/>
<polyline points="446.3,537.2 456.0,532.0" stroke="#eb9c16" stroke-width="4.0"/>
<polyline points="447.8,420.0 450.4,433.0 463.3,435.6 469.8,444.6" stroke="#bd780e" stroke-width="5.1"/>
<polyline points="447.8,420.0 450.4,433.0 463.3,435.6 469.8,444.6" stroke="#eb9c16" stroke-width="4.0"/>
<polyline points="455.6,422.6 465.9,431.7 475.0,438.2 485.4,443.3 490.6,455.0" stroke="#bd780e" stroke-width="5.1"/>
<polyline points="455.6,422.6 465.9,431.7 475.0,438.2 485.4,443.3 490.6,455.0" stroke="#eb9c16" stroke-width="4.0"/>
<polyline points="481.5,420.0 490.6,423.9 478.9,429.1 488.0,436.9 484.1,443.3" stroke="#bd780e" stroke-width="5.1"/>
<polyline points="481.5,420.0 490.6,423.9 478.9,429.1 488.0,436.9 484.1,443.3" stroke="#eb9c16" stroke-width="4.0"/>
<polyline points="469.8,444.6 482.8,457.6 478.9,464.1 493.2,473.2 491.9,481.0 500.9,483.5 504.8,492.6 513.9,496.5" stroke="#bd780e" stroke-width="5.1"/>
<polyline points="469.8,444.6 482.8,457.6 478.9,464.1 493.2,473.2 491.9,481.0 500.9,483.5 504.8,492.6 513.9,496.5" stroke="#eb9c16" stroke-width="4.0"/>
<polyline points="440.0,435.6 451.7,448.5 463.3,455.0 465.9,465.4 481.5,469.3 484.1,481.0 494.5,487.4 502.0,498.0" stroke="#bd780e" stroke-width="5.1"/>
<polyline points="440.0,435.6 451.7,448.5 463.3,455.0 465.9,465.4 481.5,469.3 484.1,481.0 494.5,487.4 502.0,498.0" stroke="#eb9c16" stroke-width="4.0"/>
<polyline points="440.0,475.8 455.6,477.1 447.8,492.6 456.0,498.0" stroke="#bd780e" stroke-width="5.1"/>
<polyline points="440.0,475.8 455.6,477.1 447.8,492.6 456.0,498.0" stroke="#eb9c16" stroke-width="4.0"/>
<polyline points="440.0,457.6 447.8,455.0" stroke="#bd780e" stroke-width="5.1"/>
<polyline points="440.0,457.6 447.8,455.0" stroke="#eb9c16" stroke-width="4.0"/>
<polyline points="536.6,426.3 543.0,443.8 562.8,437.2 565.0,424.0 552.0,415.0" stroke="#661c9e" stroke-width="5.1"/>
<polyline points="536.6,426.3 543.0,443.8 562.8,437.2 565.0,424.0 552.0,415.0" stroke="#8c2ad0" stroke-width="4.0"/>
<polyline points="537.0,357.7 548.8,362.4 560.5,353.0 567.5,362.4 560.5,371.7 548.8,376.4 544.1,367.0" stroke="#661c9e" stroke-width="5.1"/>
<polyline points="537.0,357.7 548.8,362.4 560.5,353.0 567.5,362.4 560.5,371.7 548.8,376.4 544.1,367.0" stroke="#8c2ad0" stroke-width="4.0"/>
<polyline points="502.0,355.4 513.7,348.4 525.4,355.4 518.4,362.4" stroke="#661c9e" stroke-width="5.1"/>
<polyline points="502.0,355.4 513.7,348.4 525.4,355.4 518.4,362.4" stroke="#8c2ad0" stroke-width="4.0"/>
<polyline points="509.0,362.4 516.0,371.7 530.0,374.0 541.8,374.1" stroke="#661c9e" stroke-width="5.1"/>
<polyline points="509.0,362.4 516.0,371.7 530.0,374.0 541.8,374.1" stroke="#8c2ad0" stroke-width="4.0"/>
<polyline points="562.8,390.4 553.5,397.4 548.8,395.1" stroke="#661c9e" stroke-width="5.1"/>
<polyline points="562.8,390.4 553.5,397.4 548.8,395.1" stroke="#8c2ad0" stroke-width="4.0"/>
<polyline points="574.5,388.1 583.8,395.1" stroke="#661c9e" stroke-width="5.1"/>
<polyline points="574.5,388.1 583.8,395.1" stroke="#8c2ad0" stroke-width="4.0"/>
<polyline points="483.0,385.0 495.0,380.0 506.7,390.4" stroke="#661c9e" stroke-width="5.1"/>
<polyline points="483.0,385.0 495.0,380.0 506.7,390.4" stroke="#8c2ad0" stroke-width="4.0"/>
<polyline points="467.0,360.0 478.7,354.2 490.4,362.4 498.6,374.1 488.0,378.7 474.0,375.2 467.0,360.0" stroke="#661c9e" stroke-width="5.1"/>
<polyline points="467.0,360.0 478.7,354.2 490.4,362.4 498.6,374.1 488.0,378.7 474.0,375.2 467.0,360.0" stroke="#8c2ad0" stroke-width="4.0"/>
<polyline points="478.7,354.2 481.0,367.0 488.0,378.7" stroke="#661c9e" stroke-width="5.1"/>
<polyline points="478.7,354.2 481.0,367.0 488.0,378.7" stroke="#8c2ad0" stroke-width="4.0"/>
<polyline points="490.4,362.4 502.0,355.4 506.7,367.0" stroke="#661c9e" stroke-width="5.1"/>
<polyline points="490.4,362.4 502.0,355.4 506.7,367.0" stroke="#8c2ad0" stroke-width="4.0"/>
<polyline points="496.2,351.9 509.0,344.9 530.0,341.4 533.6,346.0 520.7,360.0 509.0,362.4 502.0,355.4" stroke="#661c9e" stroke-width="5.1"/>
<polyline points="496.2,351.9 509.0,344.9 530.0,341.4 533.6,346.0 520.7,360.0 509.0,362.4 502.0,355.4" stroke="#8c2ad0" stroke-width="4.0"/>
<polyline points="511.0,348.0 523.0,348.0" stroke="#661c9e" stroke-width="5.1"/>
<polyline points="511.0,348.0 523.0,348.0" stroke="#8c2ad0" stroke-width="4.0"/>
<polyline points="520.7,360.0 540.0,358.0 548.8,362.4" stroke="#661c9e" stroke-width="5.1"/>
<polyline points="520.7,360.0 540.0,358.0 548.8,362.4" stroke="#8c2ad0" stroke-width="4.0"/>
<polyline points="495.0,369.4 520.7,367.0 537.0,360.0 553.5,362.4 562.8,357.7" stroke="#661c9e" stroke-width="5.1"/>
<polyline points="495.0,369.4 520.7,367.0 537.0,360.0 553.5,362.4 562.8,357.7" stroke="#8c2ad0" stroke-width="4.0"/>
<polyline points="560.5,334.3 567.5,341.4 576.8,346.0 569.8,357.7 565.1,369.4 581.5,367.0 588.5,369.4 583.8,381.1 574.5,388.1 562.8,390.4" stroke="#661c9e" stroke-width="5.1"/>
<polyline points="560.5,334.3 567.5,341.4 576.8,346.0 569.8,357.7 565.1,369.4 581.5,367.0 588.5,369.4 583.8,381.1 574.5,388.1 562.8,390.4" stroke="#8c2ad0" stroke-width="4.0"/>
<polyline points="544.1,353.0 558.1,355.4 562.8,364.7 553.5,376.4 541.8,374.1 534.8,367.0" stroke="#661c9e" stroke-width="5.1"/>
<polyline points="544.1,353.0 558.1,355.4 562.8,364.7 553.5,376.4 541.8,374.1 534.8,367.0" stroke="#8c2ad0" stroke-width="4.0"/>
<polyline points="546.4,381.1 565.1,385.7 570.0,390.0" stroke="#661c9e" stroke-width="5.1"/>
<polyline points="546.4,381.1 565.1,385.7 570.0,390.0" stroke="#8c2ad0" stroke-width="4.0"/>
<polyline points="590.8,376.4 604.9,381.1 600.2,390.4 602.5,397.4 595.5,402.1 583.8,395.1 578.0,395.0" stroke="#661c9e" stroke-width="5.1"/>
<polyline points="590.8,376.4 604.9,381.1 600.2,390.4 602.5,397.4 595.5,402.1 583.8,395.1 578.0,395.0" stroke="#8c2ad0" stroke-width="4.0"/>
<polyline points="488.0,402.1 498.6,385.7 506.7,390.4 513.7,406.8 506.7,416.1 495.0,411.4 488.0,402.1" stroke="#661c9e" stroke-width="5.1"/>
<polyline points="488.0,402.1 498.6,385.7 506.7,390.4 513.7,406.8 506.7,416.1 495.0,411.4 488.0,402.1" stroke="#8c2ad0" stroke-width="4.0"/>
<polyline points="506.7,390.4 523.1,385.7 530.1,395.1 518.4,402.1 511.0,396.0" stroke="#661c9e" stroke-width="5.1"/>
<polyline points="506.7,390.4 523.1,385.7 530.1,395.1 518.4,402.1 511.0,396.0" stroke="#8c2ad0" stroke-width="4.0"/>
<polyline points="527.8,385.7 541.8,385.7 548.8,395.1 544.1,404.4 530.0,398.0" stroke="#661c9e" stroke-width="5.1"/>
<polyline points="527.8,385.7 541.8,385.7 548.8,395.1 544.1,404.4 530.0,398.0" stroke="#8c2ad0" stroke-width="4.0"/>
<polyline points="516.1,423.1 525.4,418.5 537.1,416.1 548.8,406.8 562.8,395.1 574.5,383.0" stroke="#661c9e" stroke-width="5.1"/>
<polyline points="516.1,423.1 525.4,418.5 537.1,416.1 548.8,406.8 562.8,395.1 574.5,383.0" stroke="#8c2ad0" stroke-width="4.0"/>
<polyline points="516.1,423.1 520.7,434.8 527.8,427.8 525.4,418.5" stroke="#661c9e" stroke-width="5.1"/>
<polyline points="516.1,423.1 520.7,434.8 527.8,427.8 525.4,418.5" stroke="#8c2ad0" stroke-width="4.0"/>
<polyline points="537.1,420.8 541.8,437.1" stroke="#661c9e" stroke-width="5.1"/>
<polyline points="537.1,420.8 541.8,437.1" stroke="#8c2ad0" stroke-width="4.0"/>
<polyline points="560.5,411.4 572.1,413.8 583.8,406.8 586.0,413.0" stroke="#661c9e" stroke-width="5.1"/>
<polyline points="560.5,411.4 572.1,413.8 583.8,406.8 586.0,413.0" stroke="#8c2ad0" stroke-width="4.0"/>
<polyline points="478.7,381.1 481.0,397.4 488.0,402.1" stroke="#661c9e" stroke-width="5.1"/>
<polyline points="478.7,381.1 481.0,397.4 488.0,402.1" stroke="#8c2ad0" stroke-width="4.0"/>
<polyline points="474.0,375.2 478.7,381.1" stroke="#661c9e" stroke-width="5.1"/>
<polyline points="474.0,375.2 478.7,381.1" stroke="#8c2ad0" stroke-width="4.0"/>
<polyline points="507.2,452.4 513.7,475.8 529.2,477.1 538.3,468.0 529.2,456.3 507.2,452.4" stroke="#16a416" stroke-width="5.1"/>
<polyline points="507.2,452.4 513.7,475.8 529.2,477.1 538.3,468.0 529.2,456.3 507.2,452.4" stroke="#24dc24" stroke-width="4.0"/>
<polyline points="518.8,461.5 524.0,471.9 531.8,469.3 529.2,458.9" stroke="#16a416" stroke-width="5.1"/>
<polyline points="518.8,461.5 524.0,471.9 531.8,469.3 529.2,458.9" stroke="#24dc24" stroke-width="4.0"/>
<polyline points="537.0,435.6 547.4,445.9 560.3,451.1 565.5,440.7 560.3,427.8" stroke="#16a416" stroke-width="5.1"/>
<polyline points="537.0,435.6 547.4,445.9 560.3,451.1 565.5,440.7 560.3,427.8" stroke="#24dc24" stroke-width="4.0"/>
<polyline points="547.4,445.9 560.3,464.1 547.4,482.2 555.1,492.6 542.2,505.6 534.4,523.7" stroke="#16a416" stroke-width="5.1"/>
<polyline points="547.4,445.9 560.3,464.1 547.4,482.2 555.1,492.6 542.2,505.6 534.4,523.7" stroke="#24dc24" stroke-width="4.0"/>
<polyline points="560.3,464.1 581.1,453.7 594.0,445.9 599.2,435.6 614.8,440.7" stroke="#16a416" stroke-width="5.1"/>
<polyline points="560.3,464.1 581.1,453.7 594.0,445.9 599.2,435.6 614.8,440.7" stroke="#24dc24" stroke-width="4.0"/>
<polyline points="581.1,453.7 573.3,471.9 578.5,487.4 568.1,503.0" stroke="#16a416" stroke-width="5.1"/>
<polyline points="581.1,453.7 573.3,471.9 578.5,487.4 568.1,503.0" stroke="#24dc24" stroke-width="4.0"/>
<polyline points="594.0,445.9 609.6,458.9 625.2,461.5 651.1,461.5 640.7,477.1 609.6,479.6 588.9,490.0 557.7,497.8" stroke="#16a416" stroke-width="5.1"/>
<polyline points="594.0,445.9 609.6,458.9 625.2,461.5 651.1,461.5 640.7,477.1 609.6,479.6 588.9,490.0 557.7,497.8" stroke="#24dc24" stroke-width="4.0"/>
<polyline points="578.5,461.5 586.3,479.6" stroke="#16a416" stroke-width="5.1"/>
<polyline points="578.5,461.5 586.3,479.6" stroke="#24dc24" stroke-width="4.0"/>
<polyline points="581.1,497.8 604.4,503.0 627.8,497.8 635.5,516.0 625.2,526.3 604.4,526.3 581.1,521.1 570.7,528.9" stroke="#16a416" stroke-width="5.1"/>
<polyline points="581.1,497.8 604.4,503.0 627.8,497.8 635.5,516.0 625.2,526.3 604.4,526.3 581.1,521.1 570.7,528.9" stroke="#24dc24" stroke-width="4.0"/>
<polyline points="586.3,513.4 599.2,516.0 594.0,505.6" stroke="#16a416" stroke-width="5.1"/>
<polyline points="586.3,513.4 599.2,516.0 594.0,505.6" stroke="#24dc24" stroke-width="4.0"/>
<polyline points="518.8,490.0 542.2,497.8 557.7,503.0" stroke="#16a416" stroke-width="5.1"/>
<polyline points="518.8,490.0 542.2,497.8 557.7,503.0" stroke="#24dc24" stroke-width="4.0"/>
<polyline points="511.1,497.8 531.8,503.0 537.0,513.4 537.0,534.1 550.0,547.1 544.8,560.0 529.2,565.2" stroke="#16a416" stroke-width="5.1"/>
<polyline points="511.1,497.8 531.8,503.0 537.0,513.4 537.0,534.1 550.0,547.1 544.8,560.0 529.2,565.2" stroke="#24dc24" stroke-width="4.0"/>
<polyline points="500.7,523.7 505.9,541.9 495.5,554.9" stroke="#16a416" stroke-width="5.1"/>
<polyline points="500.7,523.7 505.9,541.9 495.5,554.9" stroke="#24dc24" stroke-width="4.0"/>
<polyline points="505.9,541.9 521.4,544.5 526.6,526.3 537.0,513.4" stroke="#16a416" stroke-width="5.1"/>
<polyline points="505.9,541.9 521.4,544.5 526.6,526.3 537.0,513.4" stroke="#24dc24" stroke-width="4.0"/>
<polyline points="511.1,505.6 500.7,523.7" stroke="#16a416" stroke-width="5.1"/>
<polyline points="511.1,505.6 500.7,523.7" stroke="#24dc24" stroke-width="4.0"/>
<polyline points="521.4,544.5 529.2,560.0 511.1,570.4 508.5,554.9" stroke="#16a416" stroke-width="5.1"/>
<polyline points="521.4,544.5 529.2,560.0 511.1,570.4 508.5,554.9" stroke="#24dc24" stroke-width="4.0"/>
<polyline points="555.1,518.5 562.9,534.1 573.3,544.5 591.5,541.9 601.8,531.5 583.7,529.0" stroke="#16a416" stroke-width="5.1"/>
<polyline points="555.1,518.5 562.9,534.1 573.3,544.5 591.5,541.9 601.8,531.5 583.7,529.0" stroke="#24dc24" stroke-width="4.0"/>
<polyline points="550.0,484.8 562.9,495.2 565.5,510.8 557.7,523.7" stroke="#16a416" stroke-width="5.1"/>
<polyline points="550.0,484.8 562.9,495.2 565.5,510.8 557.7,523.7" stroke="#24dc24" stroke-width="4.0"/>
<polyline points="570.7,466.7 578.5,484.8 599.2,484.8 617.4,482.2" stroke="#16a416" stroke-width="5.1"/>
<polyline points="570.7,466.7 578.5,484.8 599.2,484.8 617.4,482.2" stroke="#24dc24" stroke-width="4.0"/>
<polyline points="581.1,508.2 594.0,518.5" stroke="#16a416" stroke-width="5.1"/>
<polyline points="581.1,508.2 594.0,518.5" stroke="#24dc24" stroke-width="4.0"/>
<polyline points="571.7,415.6 599.3,407.5 604.1,408.3 615.5,418.0" stroke="#16a416" stroke-width="5.1"/>
<polyline points="571.7,415.6 599.3,407.5 604.1,408.3 615.5,418.0" stroke="#24dc24" stroke-width="4.0"/>
<polyline points="506.0,450.5 519.0,454.6 523.8,461.9 528.7,471.6 517.4,476.5 510.9,471.6 506.0,470.0 506.0,450.5" stroke="#16a416" stroke-width="5.1"/>
<polyline points="506.0,450.5 519.0,454.6 523.8,461.9 528.7,471.6 517.4,476.5 510.9,471.6 506.0,470.0 506.0,450.5" stroke="#24dc24" stroke-width="4.0"/>
<polyline points="519.0,454.6 533.5,450.5 541.7,447.3 543.3,435.9 551.4,426.2 559.5,419.7" stroke="#16a416" stroke-width="5.1"/>
<polyline points="519.0,454.6 533.5,450.5 541.7,447.3 543.3,435.9 551.4,426.2 559.5,419.7" stroke="#24dc24" stroke-width="4.0"/>
<polyline points="536.8,471.6 535.2,456.9 544.9,448.9 556.3,455.4 561.1,466.7" stroke="#16a416" stroke-width="5.1"/>
<polyline points="536.8,471.6 535.2,456.9 544.9,448.9 556.3,455.4 561.1,466.7" stroke="#24dc24" stroke-width="4.0"/>
<polyline points="559.5,419.7 564.4,426.2 562.5,442.0" stroke="#16a416" stroke-width="5.1"/>
<polyline points="559.5,419.7 564.4,426.2 562.5,442.0" stroke="#24dc24" stroke-width="4.0"/>
<polyline points="546.5,474.8 556.3,473.2 565.5,458.6" stroke="#16a416" stroke-width="5.1"/>
<polyline points="546.5,474.8 556.3,473.2 565.5,458.6" stroke="#24dc24" stroke-width="4.0"/>
<polyline points="519.0,491.0 530.3,499.1 549.8,497.5 565.5,496.0" stroke="#16a416" stroke-width="5.1"/>
<polyline points="519.0,491.0 530.3,499.1 549.8,497.5 565.5,496.0" stroke="#24dc24" stroke-width="4.0"/>
<polyline points="541.7,494.3 556.3,484.6 565.5,478.0" stroke="#16a416" stroke-width="5.1"/>
<polyline points="541.7,494.3 556.3,484.6 565.5,478.0" stroke="#24dc24" stroke-width="4.0"/>
<polyline points="465.5,478.0 475.2,483.0 468.7,492.7 465.5,500.0" stroke="#16a416" stroke-width="5.1"/>
<polyline points="465.5,478.0 475.2,483.0 468.7,492.7 465.5,500.0" stroke="#24dc24" stroke-width="4.0"/>
<polyline points="506.0,497.5 514.1,507.2" stroke="#16a416" stroke-width="5.1"/>
<polyline points="506.0,497.5 514.1,507.2" stroke="#24dc24" stroke-width="4.0"/>
<polyline points="502.8,500.8 497.9,510.0" stroke="#16a416" stroke-width="5.1"/>
<polyline points="502.8,500.8 497.9,510.0" stroke="#24dc24" stroke-width="4.0"/>
<polyline points="558.7,419.7 571.7,434.3 574.9,421.3 573.3,414.9" stroke="#16a416" stroke-width="5.1"/>
<polyline points="558.7,419.7 571.7,434.3 574.9,421.3 573.3,414.9" stroke="#24dc24" stroke-width="4.0"/>
<polyline points="576.5,432.7 589.5,444.0 596.0,439.2 612.2,440.8 617.1,458.6 631.7,461.9 651.1,461.9 639.8,474.8 620.3,476.5 609.0,481.3 579.8,489.4 571.7,494.3 560.4,492.7" stroke="#16a416" stroke-width="5.1"/>
<polyline points="576.5,432.7 589.5,444.0 596.0,439.2 612.2,440.8 617.1,458.6 631.7,461.9 651.1,461.9 639.8,474.8 620.3,476.5 609.0,481.3 579.8,489.4 571.7,494.3 560.4,492.7" stroke="#24dc24" stroke-width="4.0"/>
<polyline points="609.0,410.0 615.5,416.5 609.0,426.2 615.5,442.4 612.2,457.0 607.4,458.6" stroke="#16a416" stroke-width="5.1"/>
<polyline points="609.0,410.0 615.5,416.5 609.0,426.2 615.5,442.4 612.2,457.0 607.4,458.6" stroke="#24dc24" stroke-width="4.0"/>
<polyline points="573.3,414.9 583.1,418.1 594.4,421.3 593.6,431.1" stroke="#16a416" stroke-width="5.1"/>
<polyline points="573.3,414.9 583.1,418.1 594.4,421.3 593.6,431.1" stroke="#24dc24" stroke-width="4.0"/>
<polyline points="586.3,413.2 594.4,421.3" stroke="#16a416" stroke-width="5.1"/>
<polyline points="586.3,413.2 594.4,421.3" stroke="#24dc24" stroke-width="4.0"/>
<polyline points="579.8,448.9 565.2,458.6 560.4,468.3 555.5,478.0" stroke="#16a416" stroke-width="5.1"/>
<polyline points="579.8,448.9 565.2,458.6 560.4,468.3 555.5,478.0" stroke="#24dc24" stroke-width="4.0"/>
<polyline points="594.4,444.0 587.9,460.2 578.2,466.7 573.3,479.7 579.8,491.0 578.2,500.8 571.7,507.2" stroke="#16a416" stroke-width="5.1"/>
<polyline points="594.4,444.0 587.9,460.2 578.2,466.7 573.3,479.7 579.8,491.0 578.2,500.8 571.7,507.2" stroke="#24dc24" stroke-width="4.0"/>
<polyline points="579.8,468.3 596.0,465.1 604.1,452.1" stroke="#16a416" stroke-width="5.1"/>
<polyline points="579.8,468.3 596.0,465.1 604.1,452.1" stroke="#24dc24" stroke-width="4.0"/>
<polyline points="596.0,465.1 612.2,476.5" stroke="#16a416" stroke-width="5.1"/>
<polyline points="596.0,465.1 612.2,476.5" stroke="#24dc24" stroke-width="4.0"/>
<polyline points="583.1,494.3 607.4,491.0 610.6,500.8 626.8,499.1 633.3,508.9" stroke="#16a416" stroke-width="5.1"/>
<polyline points="583.1,494.3 607.4,491.0 610.6,500.8 626.8,499.1 633.3,508.9" stroke="#24dc24" stroke-width="4.0"/>
<polyline points="587.9,494.3 589.5,507.2" stroke="#16a416" stroke-width="5.1"/>
<polyline points="587.9,494.3 589.5,507.2" stroke="#24dc24" stroke-width="4.0"/>
<polyline points="555.5,455.4 565.2,457.0" stroke="#16a416" stroke-width="5.1"/>
<polyline points="555.5,455.4 565.2,457.0" stroke="#24dc24" stroke-width="4.0"/>
<polyline points="563.6,471.6 555.5,483.0" stroke="#16a416" stroke-width="5.1"/>
<polyline points="563.6,471.6 555.5,483.0" stroke="#24dc24" stroke-width="4.0"/>
<polyline points="562.0,491.0 566.8,497.5" stroke="#16a416" stroke-width="5.1"/>
<polyline points="562.0,491.0 566.8,497.5" stroke="#24dc24" stroke-width="4.0"/>
<polyline points="468.7,495.0 470.4,506.3 483.3,512.8 489.8,504.7" stroke="#16a416" stroke-width="5.1"/>
<polyline points="468.7,495.0 470.4,506.3 483.3,512.8 489.8,504.7" stroke="#24dc24" stroke-width="4.0"/>
<polyline points="497.9,499.9 501.2,509.6 512.5,506.3 507.6,498.2" stroke="#16a416" stroke-width="5.1"/>
<polyline points="497.9,499.9 501.2,509.6 512.5,506.3 507.6,498.2" stroke="#24dc24" stroke-width="4.0"/>
<polyline points="512.5,506.3 510.9,519.3 497.9,530.7 501.2,546.9 488.2,561.5 493.1,566.3 507.6,555.0 520.6,548.5 502.8,548.5" stroke="#16a416" stroke-width="5.1"/>
<polyline points="512.5,506.3 510.9,519.3 497.9,530.7 501.2,546.9 488.2,561.5 493.1,566.3 507.6,555.0 520.6,548.5 502.8,548.5" stroke="#24dc24" stroke-width="4.0"/>
<polyline points="510.9,519.3 519.0,519.3 528.7,509.6" stroke="#16a416" stroke-width="5.1"/>
<polyline points="510.9,519.3 519.0,519.3 528.7,509.6" stroke="#24dc24" stroke-width="4.0"/>
<polyline points="509.3,555.0 509.3,574.4 527.1,576.0 535.2,566.3 527.1,563.1 520.6,548.5" stroke="#16a416" stroke-width="5.1"/>
<polyline points="509.3,555.0 509.3,574.4 527.1,576.0 535.2,566.3 527.1,563.1 520.6,548.5" stroke="#24dc24" stroke-width="4.0"/>
<polyline points="520.6,548.5 522.2,535.5 531.9,525.8 535.2,508.0 533.5,500.0" stroke="#16a416" stroke-width="5.1"/>
<polyline points="520.6,548.5 522.2,535.5 531.9,525.8 535.2,508.0 533.5,500.0" stroke="#24dc24" stroke-width="4.0"/>
<polyline points="535.2,566.3 541.7,550.1 548.2,532.3 538.4,519.3 543.3,508.0" stroke="#16a416" stroke-width="5.1"/>
<polyline points="535.2,566.3 541.7,550.1 548.2,532.3 538.4,519.3 543.3,508.0" stroke="#24dc24" stroke-width="4.0"/>
<polyline points="541.7,555.0 553.0,564.7" stroke="#16a416" stroke-width="5.1"/>
<polyline points="541.7,555.0 553.0,564.7" stroke="#24dc24" stroke-width="4.0"/>
<polyline points="544.9,540.4 562.7,543.6 562.7,555.0" stroke="#16a416" stroke-width="5.1"/>
<polyline points="544.9,540.4 562.7,543.6 562.7,555.0" stroke="#24dc24" stroke-width="4.0"/>
<polyline points="514.1,501.5 553.0,504.7 574.9,508.0" stroke="#16a416" stroke-width="5.1"/>
<polyline points="514.1,501.5 553.0,504.7 574.9,508.0" stroke="#24dc24" stroke-width="4.0"/>
<polyline points="557.9,504.7 562.7,521.0 553.0,533.9" stroke="#16a416" stroke-width="5.1"/>
<polyline points="557.9,504.7 562.7,521.0 553.0,533.9" stroke="#24dc24" stroke-width="4.0"/>
<polyline points="574.9,508.0 592.8,504.7 605.7,508.0 626.8,499.9 630.1,501.5 636.5,516.1 623.6,529.0 604.1,525.8 579.8,527.4 565.2,522.6" stroke="#16a416" stroke-width="5.1"/>
<polyline points="574.9,508.0 592.8,504.7 605.7,508.0 626.8,499.9 630.1,501.5 636.5,516.1 623.6,529.0 604.1,525.8 579.8,527.4 565.2,522.6" stroke="#24dc24" stroke-width="4.0"/>
<polyline points="579.8,527.4 584.7,537.1 597.6,532.3 602.5,533.9 592.8,548.5 574.9,543.6 562.0,555.0 555.5,550.0" stroke="#16a416" stroke-width="5.1"/>
<polyline points="579.8,527.4 584.7,537.1 597.6,532.3 602.5,533.9 592.8,548.5 574.9,543.6 562.0,555.0 555.5,550.0" stroke="#24dc24" stroke-width="4.0"/>
<polyline points="555.5,524.2 562.0,516.0" stroke="#16a416" stroke-width="5.1"/>
<polyline points="555.5,524.2 562.0,516.0" stroke="#24dc24" stroke-width="4.0"/>
<polyline points="579.8,516.1 596.0,514.4 587.9,509.6" stroke="#16a416" stroke-width="5.1"/>
<polyline points="579.8,516.1 596.0,514.4 587.9,509.6" stroke="#24dc24" stroke-width="4.0"/>
<polyline points="589.5,495.0 587.9,504.7" stroke="#16a416" stroke-width="5.1"/>
<polyline points="589.5,495.0 587.9,504.7" stroke="#24dc24" stroke-width="4.0"/>
<polyline points="605.7,495.0 612.2,501.5" stroke="#16a416" stroke-width="5.1"/>
<polyline points="605.7,495.0 612.2,501.5" stroke="#24dc24" stroke-width="4.0"/>
<polyline points="555.5,535.5 560.4,543.6" stroke="#16a416" stroke-width="5.1"/>
<polyline points="555.5,535.5 560.4,543.6" stroke="#24dc24" stroke-width="4.0"/>
<polyline points="485.7,378.7 464.7,411.4" stroke="#1616aa" stroke-width="1.7"/>
<polyline points="492.7,413.8 486.0,460.0" stroke="#1616aa" stroke-width="1.7"/>
<polyline points="562.8,378.7 574.5,413.8" stroke="#1616aa" stroke-width="1.7"/>
<polyline points="544.1,404.4 562.8,418.5" stroke="#1616aa" stroke-width="1.7"/>
<polyline points="468.4,501.0 562.8,420.8" stroke="#1616aa" stroke-width="1.7"/>
</g>
</svg></body></html>
